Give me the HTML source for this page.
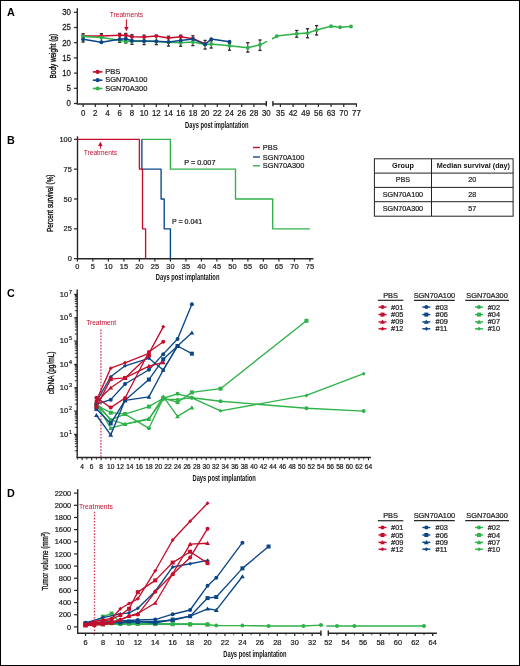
<!DOCTYPE html><html><head><meta charset="utf-8"><style>html,body{margin:0;padding:0;background:#fff;}svg{display:block;will-change:transform;}text{font-family:"Liberation Sans", sans-serif;}</style></head><body>
<svg width="520" height="666" viewBox="0 0 520 666">
<rect x="0" y="0" width="520" height="666" fill="#fff"/>
<rect x="0.5" y="0.5" width="519" height="665" fill="none" stroke="#000" stroke-width="1"/>
<text x="6.90" y="15.80" font-size="10.8" text-anchor="start" fill="#000" font-weight="bold" >A</text>
<text x="6.90" y="144.20" font-size="10.8" text-anchor="start" fill="#000" font-weight="bold" >B</text>
<text x="6.90" y="297.40" font-size="10.8" text-anchor="start" fill="#000" font-weight="bold" >C</text>
<text x="6.90" y="497.30" font-size="10.8" text-anchor="start" fill="#000" font-weight="bold" >D</text>
<line x1="77.30" y1="8.20" x2="77.30" y2="104.60" stroke="#262626" stroke-width="1.4" />
<line x1="77.00" y1="104.00" x2="266.30" y2="104.00" stroke="#262626" stroke-width="1.4" />
<line x1="272.90" y1="104.00" x2="357.00" y2="104.00" stroke="#262626" stroke-width="1.4" />
<line x1="266.30" y1="101.00" x2="266.30" y2="106.30" stroke="#262626" stroke-width="1.4" />
<line x1="272.90" y1="101.00" x2="272.90" y2="106.30" stroke="#262626" stroke-width="1.4" />
<line x1="74.00" y1="103.50" x2="77.30" y2="103.50" stroke="#262626" stroke-width="1.2" />
<g transform="translate(70.90 106.30) scale(1.0 1.17)"><text x="0" y="0" font-size="7.9" text-anchor="end" fill="#222" stroke="#222" stroke-width="0.22">0</text></g>
<line x1="74.00" y1="88.30" x2="77.30" y2="88.30" stroke="#262626" stroke-width="1.2" />
<g transform="translate(70.90 91.10) scale(1.0 1.17)"><text x="0" y="0" font-size="7.9" text-anchor="end" fill="#222" stroke="#222" stroke-width="0.22">5</text></g>
<line x1="74.00" y1="73.10" x2="77.30" y2="73.10" stroke="#262626" stroke-width="1.2" />
<g transform="translate(70.90 75.90) scale(1.0 1.17)"><text x="0" y="0" font-size="7.9" text-anchor="end" fill="#222" stroke="#222" stroke-width="0.22">10</text></g>
<line x1="74.00" y1="57.90" x2="77.30" y2="57.90" stroke="#262626" stroke-width="1.2" />
<g transform="translate(70.90 60.70) scale(1.0 1.17)"><text x="0" y="0" font-size="7.9" text-anchor="end" fill="#222" stroke="#222" stroke-width="0.22">15</text></g>
<line x1="74.00" y1="42.70" x2="77.30" y2="42.70" stroke="#262626" stroke-width="1.2" />
<g transform="translate(70.90 45.50) scale(1.0 1.17)"><text x="0" y="0" font-size="7.9" text-anchor="end" fill="#222" stroke="#222" stroke-width="0.22">20</text></g>
<line x1="74.00" y1="27.50" x2="77.30" y2="27.50" stroke="#262626" stroke-width="1.2" />
<g transform="translate(70.90 30.30) scale(1.0 1.17)"><text x="0" y="0" font-size="7.9" text-anchor="end" fill="#222" stroke="#222" stroke-width="0.22">25</text></g>
<line x1="74.00" y1="12.30" x2="77.30" y2="12.30" stroke="#262626" stroke-width="1.2" />
<g transform="translate(70.90 15.10) scale(1.0 1.17)"><text x="0" y="0" font-size="7.9" text-anchor="end" fill="#222" stroke="#222" stroke-width="0.22">30</text></g>
<line x1="83.10" y1="104.00" x2="83.10" y2="106.90" stroke="#262626" stroke-width="1.2" />
<g transform="translate(83.10 115.70) scale(1.0 1.12)"><text x="0" y="0" font-size="7.9" text-anchor="middle" fill="#222" stroke="#222" stroke-width="0.22">0</text></g>
<line x1="95.30" y1="104.00" x2="95.30" y2="106.90" stroke="#262626" stroke-width="1.2" />
<g transform="translate(95.30 115.70) scale(1.0 1.12)"><text x="0" y="0" font-size="7.9" text-anchor="middle" fill="#222" stroke="#222" stroke-width="0.22">2</text></g>
<line x1="107.50" y1="104.00" x2="107.50" y2="106.90" stroke="#262626" stroke-width="1.2" />
<g transform="translate(107.50 115.70) scale(1.0 1.12)"><text x="0" y="0" font-size="7.9" text-anchor="middle" fill="#222" stroke="#222" stroke-width="0.22">4</text></g>
<line x1="119.70" y1="104.00" x2="119.70" y2="106.90" stroke="#262626" stroke-width="1.2" />
<g transform="translate(119.70 115.70) scale(1.0 1.12)"><text x="0" y="0" font-size="7.9" text-anchor="middle" fill="#222" stroke="#222" stroke-width="0.22">6</text></g>
<line x1="131.90" y1="104.00" x2="131.90" y2="106.90" stroke="#262626" stroke-width="1.2" />
<g transform="translate(131.90 115.70) scale(1.0 1.12)"><text x="0" y="0" font-size="7.9" text-anchor="middle" fill="#222" stroke="#222" stroke-width="0.22">8</text></g>
<line x1="144.10" y1="104.00" x2="144.10" y2="106.90" stroke="#262626" stroke-width="1.2" />
<g transform="translate(144.10 115.70) scale(1.0 1.12)"><text x="0" y="0" font-size="7.9" text-anchor="middle" fill="#222" stroke="#222" stroke-width="0.22">10</text></g>
<line x1="156.30" y1="104.00" x2="156.30" y2="106.90" stroke="#262626" stroke-width="1.2" />
<g transform="translate(156.30 115.70) scale(1.0 1.12)"><text x="0" y="0" font-size="7.9" text-anchor="middle" fill="#222" stroke="#222" stroke-width="0.22">12</text></g>
<line x1="168.50" y1="104.00" x2="168.50" y2="106.90" stroke="#262626" stroke-width="1.2" />
<g transform="translate(168.50 115.70) scale(1.0 1.12)"><text x="0" y="0" font-size="7.9" text-anchor="middle" fill="#222" stroke="#222" stroke-width="0.22">14</text></g>
<line x1="180.70" y1="104.00" x2="180.70" y2="106.90" stroke="#262626" stroke-width="1.2" />
<g transform="translate(180.70 115.70) scale(1.0 1.12)"><text x="0" y="0" font-size="7.9" text-anchor="middle" fill="#222" stroke="#222" stroke-width="0.22">16</text></g>
<line x1="192.90" y1="104.00" x2="192.90" y2="106.90" stroke="#262626" stroke-width="1.2" />
<g transform="translate(192.90 115.70) scale(1.0 1.12)"><text x="0" y="0" font-size="7.9" text-anchor="middle" fill="#222" stroke="#222" stroke-width="0.22">18</text></g>
<line x1="205.10" y1="104.00" x2="205.10" y2="106.90" stroke="#262626" stroke-width="1.2" />
<g transform="translate(205.10 115.70) scale(1.0 1.12)"><text x="0" y="0" font-size="7.9" text-anchor="middle" fill="#222" stroke="#222" stroke-width="0.22">20</text></g>
<line x1="217.30" y1="104.00" x2="217.30" y2="106.90" stroke="#262626" stroke-width="1.2" />
<g transform="translate(217.30 115.70) scale(1.0 1.12)"><text x="0" y="0" font-size="7.9" text-anchor="middle" fill="#222" stroke="#222" stroke-width="0.22">22</text></g>
<line x1="229.50" y1="104.00" x2="229.50" y2="106.90" stroke="#262626" stroke-width="1.2" />
<g transform="translate(229.50 115.70) scale(1.0 1.12)"><text x="0" y="0" font-size="7.9" text-anchor="middle" fill="#222" stroke="#222" stroke-width="0.22">24</text></g>
<line x1="241.70" y1="104.00" x2="241.70" y2="106.90" stroke="#262626" stroke-width="1.2" />
<g transform="translate(241.70 115.70) scale(1.0 1.12)"><text x="0" y="0" font-size="7.9" text-anchor="middle" fill="#222" stroke="#222" stroke-width="0.22">26</text></g>
<line x1="253.90" y1="104.00" x2="253.90" y2="106.90" stroke="#262626" stroke-width="1.2" />
<g transform="translate(253.90 115.70) scale(1.0 1.12)"><text x="0" y="0" font-size="7.9" text-anchor="middle" fill="#222" stroke="#222" stroke-width="0.22">28</text></g>
<g transform="translate(266.30 115.70) scale(1.0 1.12)"><text x="0" y="0" font-size="7.9" text-anchor="middle" fill="#222" stroke="#222" stroke-width="0.22">30</text></g>
<line x1="280.40" y1="104.00" x2="280.40" y2="106.90" stroke="#262626" stroke-width="1.2" />
<g transform="translate(280.40 115.70) scale(1.0 1.12)"><text x="0" y="0" font-size="7.9" text-anchor="middle" fill="#222" stroke="#222" stroke-width="0.22">35</text></g>
<line x1="293.07" y1="104.00" x2="293.07" y2="106.90" stroke="#262626" stroke-width="1.2" />
<g transform="translate(293.07 115.70) scale(1.0 1.12)"><text x="0" y="0" font-size="7.9" text-anchor="middle" fill="#222" stroke="#222" stroke-width="0.22">42</text></g>
<line x1="305.74" y1="104.00" x2="305.74" y2="106.90" stroke="#262626" stroke-width="1.2" />
<g transform="translate(305.74 115.70) scale(1.0 1.12)"><text x="0" y="0" font-size="7.9" text-anchor="middle" fill="#222" stroke="#222" stroke-width="0.22">49</text></g>
<line x1="318.41" y1="104.00" x2="318.41" y2="106.90" stroke="#262626" stroke-width="1.2" />
<g transform="translate(318.41 115.70) scale(1.0 1.12)"><text x="0" y="0" font-size="7.9" text-anchor="middle" fill="#222" stroke="#222" stroke-width="0.22">56</text></g>
<line x1="331.08" y1="104.00" x2="331.08" y2="106.90" stroke="#262626" stroke-width="1.2" />
<g transform="translate(331.08 115.70) scale(1.0 1.12)"><text x="0" y="0" font-size="7.9" text-anchor="middle" fill="#222" stroke="#222" stroke-width="0.22">63</text></g>
<line x1="343.75" y1="104.00" x2="343.75" y2="106.90" stroke="#262626" stroke-width="1.2" />
<g transform="translate(343.75 115.70) scale(1.0 1.12)"><text x="0" y="0" font-size="7.9" text-anchor="middle" fill="#222" stroke="#222" stroke-width="0.22">70</text></g>
<line x1="356.42" y1="104.00" x2="356.42" y2="106.90" stroke="#262626" stroke-width="1.2" />
<g transform="translate(356.42 115.70) scale(1.0 1.12)"><text x="0" y="0" font-size="7.9" text-anchor="middle" fill="#222" stroke="#222" stroke-width="0.22">77</text></g>
<g transform="translate(185.10 128.00) scale(0.6872 1)"><text x="0" y="0" font-size="8.4" text-anchor="start" fill="#111" font-weight="bold">Days post implantation</text></g>
<g transform="translate(55.90 56.20) rotate(-90) scale(0.7117 1)"><text x="0" y="0" font-size="9.0" text-anchor="middle" fill="#111" font-weight="normal" stroke="#111" stroke-width="0.35">Body weight (g)</text></g>
<text x="126.40" y="16.90" font-size="6.9" text-anchor="middle" fill="#c50e2d" font-weight="normal" textLength="33.50" lengthAdjust="spacingAndGlyphs" >Treatments</text>
<line x1="126.40" y1="19.40" x2="126.40" y2="28.00" stroke="#c50e2d" stroke-width="1.1" />
<polygon points="124.1,27 128.7,27 126.4,31.2" fill="#c50e2d"/>
<line x1="83.10" y1="33.60" x2="83.10" y2="42.20" stroke="#262626" stroke-width="1.0" />
<line x1="81.50" y1="33.80" x2="84.70" y2="33.80" stroke="#262626" stroke-width="1.3" />
<line x1="81.50" y1="42.00" x2="84.70" y2="42.00" stroke="#262626" stroke-width="1.3" />
<line x1="101.40" y1="33.50" x2="101.40" y2="42.60" stroke="#262626" stroke-width="1.0" />
<line x1="99.80" y1="33.70" x2="103.00" y2="33.70" stroke="#262626" stroke-width="1.3" />
<line x1="99.80" y1="42.40" x2="103.00" y2="42.40" stroke="#262626" stroke-width="1.3" />
<line x1="119.70" y1="33.20" x2="119.70" y2="42.50" stroke="#262626" stroke-width="1.0" />
<line x1="118.10" y1="33.40" x2="121.30" y2="33.40" stroke="#262626" stroke-width="1.3" />
<line x1="118.10" y1="42.30" x2="121.30" y2="42.30" stroke="#262626" stroke-width="1.3" />
<line x1="125.80" y1="33.20" x2="125.80" y2="43.20" stroke="#262626" stroke-width="1.0" />
<line x1="124.20" y1="33.40" x2="127.40" y2="33.40" stroke="#262626" stroke-width="1.3" />
<line x1="124.20" y1="43.00" x2="127.40" y2="43.00" stroke="#262626" stroke-width="1.3" />
<line x1="131.90" y1="34.60" x2="131.90" y2="44.50" stroke="#262626" stroke-width="1.0" />
<line x1="130.30" y1="34.80" x2="133.50" y2="34.80" stroke="#262626" stroke-width="1.3" />
<line x1="130.30" y1="44.30" x2="133.50" y2="44.30" stroke="#262626" stroke-width="1.3" />
<line x1="144.10" y1="35.00" x2="144.10" y2="44.80" stroke="#262626" stroke-width="1.0" />
<line x1="142.50" y1="35.20" x2="145.70" y2="35.20" stroke="#262626" stroke-width="1.3" />
<line x1="142.50" y1="44.60" x2="145.70" y2="44.60" stroke="#262626" stroke-width="1.3" />
<line x1="156.30" y1="35.00" x2="156.30" y2="44.80" stroke="#262626" stroke-width="1.0" />
<line x1="154.70" y1="35.20" x2="157.90" y2="35.20" stroke="#262626" stroke-width="1.3" />
<line x1="154.70" y1="44.60" x2="157.90" y2="44.60" stroke="#262626" stroke-width="1.3" />
<line x1="168.50" y1="36.00" x2="168.50" y2="46.20" stroke="#262626" stroke-width="1.0" />
<line x1="166.90" y1="36.20" x2="170.10" y2="36.20" stroke="#262626" stroke-width="1.3" />
<line x1="166.90" y1="46.00" x2="170.10" y2="46.00" stroke="#262626" stroke-width="1.3" />
<line x1="180.70" y1="35.00" x2="180.70" y2="46.40" stroke="#262626" stroke-width="1.0" />
<line x1="179.10" y1="35.20" x2="182.30" y2="35.20" stroke="#262626" stroke-width="1.3" />
<line x1="179.10" y1="46.20" x2="182.30" y2="46.20" stroke="#262626" stroke-width="1.3" />
<line x1="192.90" y1="35.60" x2="192.90" y2="45.80" stroke="#262626" stroke-width="1.0" />
<line x1="191.30" y1="35.80" x2="194.50" y2="35.80" stroke="#262626" stroke-width="1.3" />
<line x1="191.30" y1="45.60" x2="194.50" y2="45.60" stroke="#262626" stroke-width="1.3" />
<line x1="205.10" y1="40.20" x2="205.10" y2="49.20" stroke="#262626" stroke-width="1.0" />
<line x1="203.50" y1="40.40" x2="206.70" y2="40.40" stroke="#262626" stroke-width="1.3" />
<line x1="203.50" y1="49.00" x2="206.70" y2="49.00" stroke="#262626" stroke-width="1.3" />
<line x1="211.20" y1="40.50" x2="211.20" y2="48.20" stroke="#262626" stroke-width="1.0" />
<line x1="209.60" y1="40.70" x2="212.80" y2="40.70" stroke="#262626" stroke-width="1.3" />
<line x1="209.60" y1="48.00" x2="212.80" y2="48.00" stroke="#262626" stroke-width="1.3" />
<line x1="229.50" y1="43.00" x2="229.50" y2="50.40" stroke="#262626" stroke-width="1.0" />
<line x1="227.90" y1="43.20" x2="231.10" y2="43.20" stroke="#262626" stroke-width="1.3" />
<line x1="227.90" y1="50.20" x2="231.10" y2="50.20" stroke="#262626" stroke-width="1.3" />
<line x1="247.80" y1="42.50" x2="247.80" y2="52.30" stroke="#262626" stroke-width="1.0" />
<line x1="246.20" y1="42.70" x2="249.40" y2="42.70" stroke="#262626" stroke-width="1.3" />
<line x1="246.20" y1="52.10" x2="249.40" y2="52.10" stroke="#262626" stroke-width="1.3" />
<line x1="260.00" y1="39.80" x2="260.00" y2="50.60" stroke="#262626" stroke-width="1.0" />
<line x1="258.40" y1="40.00" x2="261.60" y2="40.00" stroke="#262626" stroke-width="1.3" />
<line x1="258.40" y1="50.40" x2="261.60" y2="50.40" stroke="#262626" stroke-width="1.3" />
<line x1="296.69" y1="30.30" x2="296.69" y2="37.40" stroke="#262626" stroke-width="1.0" />
<line x1="295.09" y1="30.50" x2="298.29" y2="30.50" stroke="#262626" stroke-width="1.3" />
<line x1="295.09" y1="37.20" x2="298.29" y2="37.20" stroke="#262626" stroke-width="1.3" />
<line x1="307.55" y1="28.50" x2="307.55" y2="38.00" stroke="#262626" stroke-width="1.0" />
<line x1="305.95" y1="28.70" x2="309.15" y2="28.70" stroke="#262626" stroke-width="1.3" />
<line x1="305.95" y1="37.80" x2="309.15" y2="37.80" stroke="#262626" stroke-width="1.3" />
<line x1="316.60" y1="25.40" x2="316.60" y2="35.10" stroke="#262626" stroke-width="1.0" />
<line x1="315.00" y1="25.60" x2="318.20" y2="25.60" stroke="#262626" stroke-width="1.3" />
<line x1="315.00" y1="34.90" x2="318.20" y2="34.90" stroke="#262626" stroke-width="1.3" />
<polyline points="83.10,35.90 101.40,35.90 119.70,35.30 125.80,35.30 131.90,36.80 144.10,37.10 156.30,36.10 168.50,37.90 180.70,36.70 192.90,38.80 205.10,43.80" fill="none" stroke="#c50e2d" stroke-width="1.5" stroke-linejoin="round" />
<circle cx="83.10" cy="35.90" r="1.95" fill="#c50e2d"/>
<circle cx="101.40" cy="35.90" r="1.95" fill="#c50e2d"/>
<circle cx="119.70" cy="35.30" r="1.95" fill="#c50e2d"/>
<circle cx="125.80" cy="35.30" r="1.95" fill="#c50e2d"/>
<circle cx="131.90" cy="36.80" r="1.95" fill="#c50e2d"/>
<circle cx="144.10" cy="37.10" r="1.95" fill="#c50e2d"/>
<circle cx="156.30" cy="36.10" r="1.95" fill="#c50e2d"/>
<circle cx="168.50" cy="37.90" r="1.95" fill="#c50e2d"/>
<circle cx="180.70" cy="36.70" r="1.95" fill="#c50e2d"/>
<circle cx="192.90" cy="38.80" r="1.95" fill="#c50e2d"/>
<circle cx="205.10" cy="43.80" r="1.95" fill="#c50e2d"/>
<polyline points="83.10,36.50 101.40,37.60 119.70,40.30 125.80,41.40 131.90,41.20 144.10,41.30 156.30,41.60 168.50,42.30 180.70,42.70 192.90,42.10 205.10,44.60 211.20,44.00 229.50,45.80 247.80,47.70 260.00,44.80 267.00,41.30" fill="none" stroke="#2fb24a" stroke-width="1.5" stroke-linejoin="round" />
<polyline points="272.10,39.00 276.78,36.10 296.69,33.80 307.55,33.10 316.60,30.00 331.08,26.20 340.13,27.20 350.99,26.50" fill="none" stroke="#2fb24a" stroke-width="1.5" stroke-linejoin="round" />
<circle cx="83.10" cy="36.50" r="1.95" fill="#2fb24a"/>
<circle cx="101.40" cy="37.60" r="1.95" fill="#2fb24a"/>
<circle cx="119.70" cy="40.30" r="1.95" fill="#2fb24a"/>
<circle cx="125.80" cy="41.40" r="1.95" fill="#2fb24a"/>
<circle cx="131.90" cy="41.20" r="1.95" fill="#2fb24a"/>
<circle cx="144.10" cy="41.30" r="1.95" fill="#2fb24a"/>
<circle cx="156.30" cy="41.60" r="1.95" fill="#2fb24a"/>
<circle cx="168.50" cy="42.30" r="1.95" fill="#2fb24a"/>
<circle cx="180.70" cy="42.70" r="1.95" fill="#2fb24a"/>
<circle cx="192.90" cy="42.10" r="1.95" fill="#2fb24a"/>
<circle cx="205.10" cy="44.60" r="1.95" fill="#2fb24a"/>
<circle cx="211.20" cy="44.00" r="1.95" fill="#2fb24a"/>
<circle cx="229.50" cy="45.80" r="1.95" fill="#2fb24a"/>
<circle cx="247.80" cy="47.70" r="1.95" fill="#2fb24a"/>
<circle cx="260.00" cy="44.80" r="1.95" fill="#2fb24a"/>
<circle cx="276.78" cy="36.10" r="1.95" fill="#2fb24a"/>
<circle cx="296.69" cy="33.80" r="1.95" fill="#2fb24a"/>
<circle cx="307.55" cy="33.10" r="1.95" fill="#2fb24a"/>
<circle cx="316.60" cy="30.00" r="1.95" fill="#2fb24a"/>
<circle cx="331.08" cy="26.20" r="1.95" fill="#2fb24a"/>
<circle cx="340.13" cy="27.20" r="1.95" fill="#2fb24a"/>
<circle cx="350.99" cy="26.50" r="1.95" fill="#2fb24a"/>
<polyline points="83.10,39.30 101.40,42.20 119.70,39.30 125.80,38.80 131.90,40.80 144.10,41.00 156.30,41.30 168.50,41.90 180.70,40.50 192.90,39.10 205.10,44.40 211.20,39.10 229.50,41.70" fill="none" stroke="#0b4787" stroke-width="1.5" stroke-linejoin="round" />
<circle cx="83.10" cy="39.30" r="1.95" fill="#0b4787"/>
<circle cx="101.40" cy="42.20" r="1.95" fill="#0b4787"/>
<circle cx="119.70" cy="39.30" r="1.95" fill="#0b4787"/>
<circle cx="125.80" cy="38.80" r="1.95" fill="#0b4787"/>
<circle cx="131.90" cy="40.80" r="1.95" fill="#0b4787"/>
<circle cx="144.10" cy="41.00" r="1.95" fill="#0b4787"/>
<circle cx="156.30" cy="41.30" r="1.95" fill="#0b4787"/>
<circle cx="168.50" cy="41.90" r="1.95" fill="#0b4787"/>
<circle cx="180.70" cy="40.50" r="1.95" fill="#0b4787"/>
<circle cx="192.90" cy="39.10" r="1.95" fill="#0b4787"/>
<circle cx="205.10" cy="44.40" r="1.95" fill="#0b4787"/>
<circle cx="211.20" cy="39.10" r="1.95" fill="#0b4787"/>
<circle cx="229.50" cy="41.70" r="1.95" fill="#0b4787"/>
<line x1="92.80" y1="71.90" x2="102.40" y2="71.90" stroke="#c50e2d" stroke-width="1.6" />
<circle cx="97.6" cy="71.9" r="2.1" fill="#c50e2d"/>
<text x="105.20" y="74.00" font-size="7.5" text-anchor="start" fill="#222" font-weight="normal" stroke="#222" stroke-width="0.22" >PBS</text>
<line x1="92.80" y1="80.20" x2="102.40" y2="80.20" stroke="#0b4787" stroke-width="1.6" />
<circle cx="97.6" cy="80.2" r="2.1" fill="#0b4787"/>
<text x="105.20" y="82.30" font-size="7.5" text-anchor="start" fill="#222" font-weight="normal" stroke="#222" stroke-width="0.22" >SGN70A100</text>
<line x1="92.80" y1="88.50" x2="102.40" y2="88.50" stroke="#2fb24a" stroke-width="1.6" />
<circle cx="97.6" cy="88.5" r="2.1" fill="#2fb24a"/>
<text x="105.20" y="90.60" font-size="7.5" text-anchor="start" fill="#222" font-weight="normal" stroke="#222" stroke-width="0.22" >SGN70A300</text>
<line x1="77.50" y1="136.30" x2="77.50" y2="259.20" stroke="#262626" stroke-width="1.4" />
<line x1="77.00" y1="258.70" x2="313.50" y2="258.70" stroke="#262626" stroke-width="1.4" />
<line x1="74.00" y1="258.70" x2="77.50" y2="258.70" stroke="#262626" stroke-width="1.2" />
<text x="71.80" y="261.30" font-size="7.4" text-anchor="end" fill="#222" font-weight="normal" stroke="#222" stroke-width="0.22" >0</text>
<line x1="74.00" y1="228.85" x2="77.50" y2="228.85" stroke="#262626" stroke-width="1.2" />
<text x="71.80" y="231.45" font-size="7.4" text-anchor="end" fill="#222" font-weight="normal" stroke="#222" stroke-width="0.22" >25</text>
<line x1="74.00" y1="199.00" x2="77.50" y2="199.00" stroke="#262626" stroke-width="1.2" />
<text x="71.80" y="201.60" font-size="7.4" text-anchor="end" fill="#222" font-weight="normal" stroke="#222" stroke-width="0.22" >50</text>
<line x1="74.00" y1="169.15" x2="77.50" y2="169.15" stroke="#262626" stroke-width="1.2" />
<text x="71.80" y="171.75" font-size="7.4" text-anchor="end" fill="#222" font-weight="normal" stroke="#222" stroke-width="0.22" >75</text>
<line x1="74.00" y1="139.30" x2="77.50" y2="139.30" stroke="#262626" stroke-width="1.2" />
<text x="71.80" y="141.90" font-size="7.4" text-anchor="end" fill="#222" font-weight="normal" stroke="#222" stroke-width="0.22" >100</text>
<line x1="77.40" y1="258.80" x2="77.40" y2="261.60" stroke="#262626" stroke-width="1.2" />
<text x="77.40" y="268.80" font-size="7.4" text-anchor="middle" fill="#222" font-weight="normal" stroke="#222" stroke-width="0.22" >0</text>
<line x1="92.90" y1="258.80" x2="92.90" y2="261.60" stroke="#262626" stroke-width="1.2" />
<text x="92.90" y="268.80" font-size="7.4" text-anchor="middle" fill="#222" font-weight="normal" stroke="#222" stroke-width="0.22" >5</text>
<line x1="108.40" y1="258.80" x2="108.40" y2="261.60" stroke="#262626" stroke-width="1.2" />
<text x="108.40" y="268.80" font-size="7.4" text-anchor="middle" fill="#222" font-weight="normal" stroke="#222" stroke-width="0.22" >10</text>
<line x1="123.90" y1="258.80" x2="123.90" y2="261.60" stroke="#262626" stroke-width="1.2" />
<text x="123.90" y="268.80" font-size="7.4" text-anchor="middle" fill="#222" font-weight="normal" stroke="#222" stroke-width="0.22" >15</text>
<line x1="139.40" y1="258.80" x2="139.40" y2="261.60" stroke="#262626" stroke-width="1.2" />
<text x="139.40" y="268.80" font-size="7.4" text-anchor="middle" fill="#222" font-weight="normal" stroke="#222" stroke-width="0.22" >20</text>
<line x1="154.90" y1="258.80" x2="154.90" y2="261.60" stroke="#262626" stroke-width="1.2" />
<text x="154.90" y="268.80" font-size="7.4" text-anchor="middle" fill="#222" font-weight="normal" stroke="#222" stroke-width="0.22" >25</text>
<line x1="170.40" y1="258.80" x2="170.40" y2="261.60" stroke="#262626" stroke-width="1.2" />
<text x="170.40" y="268.80" font-size="7.4" text-anchor="middle" fill="#222" font-weight="normal" stroke="#222" stroke-width="0.22" >30</text>
<line x1="185.90" y1="258.80" x2="185.90" y2="261.60" stroke="#262626" stroke-width="1.2" />
<text x="185.90" y="268.80" font-size="7.4" text-anchor="middle" fill="#222" font-weight="normal" stroke="#222" stroke-width="0.22" >35</text>
<line x1="201.40" y1="258.80" x2="201.40" y2="261.60" stroke="#262626" stroke-width="1.2" />
<text x="201.40" y="268.80" font-size="7.4" text-anchor="middle" fill="#222" font-weight="normal" stroke="#222" stroke-width="0.22" >40</text>
<line x1="216.90" y1="258.80" x2="216.90" y2="261.60" stroke="#262626" stroke-width="1.2" />
<text x="216.90" y="268.80" font-size="7.4" text-anchor="middle" fill="#222" font-weight="normal" stroke="#222" stroke-width="0.22" >45</text>
<line x1="232.40" y1="258.80" x2="232.40" y2="261.60" stroke="#262626" stroke-width="1.2" />
<text x="232.40" y="268.80" font-size="7.4" text-anchor="middle" fill="#222" font-weight="normal" stroke="#222" stroke-width="0.22" >50</text>
<line x1="247.90" y1="258.80" x2="247.90" y2="261.60" stroke="#262626" stroke-width="1.2" />
<text x="247.90" y="268.80" font-size="7.4" text-anchor="middle" fill="#222" font-weight="normal" stroke="#222" stroke-width="0.22" >55</text>
<line x1="263.40" y1="258.80" x2="263.40" y2="261.60" stroke="#262626" stroke-width="1.2" />
<text x="263.40" y="268.80" font-size="7.4" text-anchor="middle" fill="#222" font-weight="normal" stroke="#222" stroke-width="0.22" >60</text>
<line x1="278.90" y1="258.80" x2="278.90" y2="261.60" stroke="#262626" stroke-width="1.2" />
<text x="278.90" y="268.80" font-size="7.4" text-anchor="middle" fill="#222" font-weight="normal" stroke="#222" stroke-width="0.22" >65</text>
<line x1="294.40" y1="258.80" x2="294.40" y2="261.60" stroke="#262626" stroke-width="1.2" />
<text x="294.40" y="268.80" font-size="7.4" text-anchor="middle" fill="#222" font-weight="normal" stroke="#222" stroke-width="0.22" >70</text>
<line x1="309.90" y1="258.80" x2="309.90" y2="261.60" stroke="#262626" stroke-width="1.2" />
<text x="309.90" y="268.80" font-size="7.4" text-anchor="middle" fill="#222" font-weight="normal" stroke="#222" stroke-width="0.22" >75</text>
<g transform="translate(155.80 280.30) scale(0.6894 1)"><text x="0" y="0" font-size="8.4" text-anchor="start" fill="#111" font-weight="bold">Days post implantation</text></g>
<g transform="translate(52.60 203.30) rotate(-90) scale(0.7329 1)"><text x="0" y="0" font-size="8.8" text-anchor="middle" fill="#111" font-weight="normal" stroke="#111" stroke-width="0.35">Percent survival (%)</text></g>
<polyline points="309.90,228.85 272.70,228.85 272.70,199.00 235.50,199.00 235.50,169.15 170.40,169.15 170.40,139.30 141.88,139.30" fill="none" stroke="#2fb24a" stroke-width="1.35" stroke-linejoin="round" stroke-linejoin="miter"/>
<polyline points="141.88,139.30 141.88,169.15 161.10,169.15 161.10,199.00 164.20,199.00 164.20,228.85 170.40,228.85 170.40,258.70" fill="none" stroke="#0b4787" stroke-width="1.35" stroke-linejoin="round" stroke-linejoin="miter"/>
<polyline points="77.50,139.30 139.40,139.30 139.40,169.15 142.50,169.15 142.50,228.85 145.60,228.85 145.60,258.70" fill="none" stroke="#c50e2d" stroke-width="1.35" stroke-linejoin="round" stroke-linejoin="miter"/>
<line x1="100.40" y1="144.50" x2="100.40" y2="148.60" stroke="#c50e2d" stroke-width="1.0" />
<polygon points="98.1,146.0 102.7,146.0 100.4,141.7" fill="#c50e2d"/>
<text x="100.40" y="155.10" font-size="6.8" text-anchor="middle" fill="#c50e2d" font-weight="normal" textLength="33.40" lengthAdjust="spacingAndGlyphs" >Treatments</text>
<text x="184.20" y="164.90" font-size="7.2" text-anchor="start" fill="#222" font-weight="normal" textLength="31.30" lengthAdjust="spacingAndGlyphs" stroke="#222" stroke-width="0.22" >P = 0.007</text>
<text x="171.90" y="223.80" font-size="7.2" text-anchor="start" fill="#222" font-weight="normal" textLength="30.30" lengthAdjust="spacingAndGlyphs" stroke="#222" stroke-width="0.22" >P = 0.041</text>
<line x1="253.00" y1="147.50" x2="259.90" y2="147.50" stroke="#c50e2d" stroke-width="1.4" />
<text x="262.80" y="150.00" font-size="7.4" text-anchor="start" fill="#222" font-weight="normal" stroke="#222" stroke-width="0.22" >PBS</text>
<line x1="253.00" y1="157.00" x2="259.90" y2="157.00" stroke="#0b4787" stroke-width="1.4" />
<text x="262.80" y="159.50" font-size="7.4" text-anchor="start" fill="#222" font-weight="normal" stroke="#222" stroke-width="0.22" >SGN70A100</text>
<line x1="253.00" y1="165.80" x2="259.90" y2="165.80" stroke="#2fb24a" stroke-width="1.4" />
<text x="262.80" y="168.30" font-size="7.4" text-anchor="start" fill="#222" font-weight="normal" stroke="#222" stroke-width="0.22" >SGN70A300</text>
<rect x="374.4" y="158.8" width="138.70000000000005" height="57.39999999999998" fill="none" stroke="#222" stroke-width="1"/>
<line x1="374.40" y1="173.10" x2="513.10" y2="173.10" stroke="#222" stroke-width="1" />
<line x1="374.40" y1="187.40" x2="513.10" y2="187.40" stroke="#222" stroke-width="1" />
<line x1="374.40" y1="201.70" x2="513.10" y2="201.70" stroke="#222" stroke-width="1" />
<line x1="431.50" y1="158.80" x2="431.50" y2="216.20" stroke="#222" stroke-width="1" />
<text x="402.95" y="168.40" font-size="7.3" text-anchor="middle" fill="#111" font-weight="bold" >Group</text>
<text x="473.40" y="168.40" font-size="7.2" text-anchor="middle" fill="#111" font-weight="bold" >Median survival (day)</text>
<text x="402.95" y="182.40" font-size="7.2" text-anchor="middle" fill="#222" font-weight="normal" stroke="#222" stroke-width="0.22" >PBS</text>
<text x="472.30" y="182.40" font-size="7.2" text-anchor="middle" fill="#222" font-weight="normal" stroke="#222" stroke-width="0.22" >20</text>
<text x="402.95" y="196.70" font-size="7.2" text-anchor="middle" fill="#222" font-weight="normal" stroke="#222" stroke-width="0.22" >SGN70A100</text>
<text x="472.30" y="196.70" font-size="7.2" text-anchor="middle" fill="#222" font-weight="normal" stroke="#222" stroke-width="0.22" >28</text>
<text x="402.95" y="211.00" font-size="7.2" text-anchor="middle" fill="#222" font-weight="normal" stroke="#222" stroke-width="0.22" >SGN70A300</text>
<text x="472.30" y="211.00" font-size="7.2" text-anchor="middle" fill="#222" font-weight="normal" stroke="#222" stroke-width="0.22" >57</text>
<line x1="77.20" y1="289.40" x2="77.20" y2="458.00" stroke="#262626" stroke-width="1.4" />
<line x1="76.70" y1="457.50" x2="370.90" y2="457.50" stroke="#262626" stroke-width="1.4" />
<line x1="74.80" y1="450.71" x2="77.20" y2="450.71" stroke="#262626" stroke-width="0.95" />
<line x1="74.80" y1="446.60" x2="77.20" y2="446.60" stroke="#262626" stroke-width="0.95" />
<line x1="74.80" y1="443.68" x2="77.20" y2="443.68" stroke="#262626" stroke-width="0.95" />
<line x1="74.80" y1="441.42" x2="77.20" y2="441.42" stroke="#262626" stroke-width="0.95" />
<line x1="74.80" y1="439.58" x2="77.20" y2="439.58" stroke="#262626" stroke-width="0.95" />
<line x1="74.80" y1="438.01" x2="77.20" y2="438.01" stroke="#262626" stroke-width="0.95" />
<line x1="74.80" y1="436.66" x2="77.20" y2="436.66" stroke="#262626" stroke-width="0.95" />
<line x1="74.80" y1="435.47" x2="77.20" y2="435.47" stroke="#262626" stroke-width="0.95" />
<line x1="74.20" y1="434.40" x2="77.20" y2="434.40" stroke="#262626" stroke-width="1.2" />
<text x="68.30" y="436.80" font-size="7.6" text-anchor="end" fill="#222" font-weight="normal" stroke="#222" stroke-width="0.22" >10</text>
<text x="68.90" y="433.50" font-size="5.4" text-anchor="start" fill="#222" font-weight="normal" stroke="#222" stroke-width="0.22" >1</text>
<line x1="74.80" y1="427.38" x2="77.20" y2="427.38" stroke="#262626" stroke-width="0.95" />
<line x1="74.80" y1="423.27" x2="77.20" y2="423.27" stroke="#262626" stroke-width="0.95" />
<line x1="74.80" y1="420.35" x2="77.20" y2="420.35" stroke="#262626" stroke-width="0.95" />
<line x1="74.80" y1="418.09" x2="77.20" y2="418.09" stroke="#262626" stroke-width="0.95" />
<line x1="74.80" y1="416.25" x2="77.20" y2="416.25" stroke="#262626" stroke-width="0.95" />
<line x1="74.80" y1="414.68" x2="77.20" y2="414.68" stroke="#262626" stroke-width="0.95" />
<line x1="74.80" y1="413.33" x2="77.20" y2="413.33" stroke="#262626" stroke-width="0.95" />
<line x1="74.80" y1="412.14" x2="77.20" y2="412.14" stroke="#262626" stroke-width="0.95" />
<line x1="74.20" y1="411.07" x2="77.20" y2="411.07" stroke="#262626" stroke-width="1.2" />
<text x="68.30" y="413.47" font-size="7.6" text-anchor="end" fill="#222" font-weight="normal" stroke="#222" stroke-width="0.22" >10</text>
<text x="68.90" y="410.17" font-size="5.4" text-anchor="start" fill="#222" font-weight="normal" stroke="#222" stroke-width="0.22" >2</text>
<line x1="74.80" y1="404.05" x2="77.20" y2="404.05" stroke="#262626" stroke-width="0.95" />
<line x1="74.80" y1="399.94" x2="77.20" y2="399.94" stroke="#262626" stroke-width="0.95" />
<line x1="74.80" y1="397.02" x2="77.20" y2="397.02" stroke="#262626" stroke-width="0.95" />
<line x1="74.80" y1="394.76" x2="77.20" y2="394.76" stroke="#262626" stroke-width="0.95" />
<line x1="74.80" y1="392.92" x2="77.20" y2="392.92" stroke="#262626" stroke-width="0.95" />
<line x1="74.80" y1="391.35" x2="77.20" y2="391.35" stroke="#262626" stroke-width="0.95" />
<line x1="74.80" y1="390.00" x2="77.20" y2="390.00" stroke="#262626" stroke-width="0.95" />
<line x1="74.80" y1="388.81" x2="77.20" y2="388.81" stroke="#262626" stroke-width="0.95" />
<line x1="74.20" y1="387.74" x2="77.20" y2="387.74" stroke="#262626" stroke-width="1.2" />
<text x="68.30" y="390.14" font-size="7.6" text-anchor="end" fill="#222" font-weight="normal" stroke="#222" stroke-width="0.22" >10</text>
<text x="68.90" y="386.84" font-size="5.4" text-anchor="start" fill="#222" font-weight="normal" stroke="#222" stroke-width="0.22" >3</text>
<line x1="74.80" y1="380.72" x2="77.20" y2="380.72" stroke="#262626" stroke-width="0.95" />
<line x1="74.80" y1="376.61" x2="77.20" y2="376.61" stroke="#262626" stroke-width="0.95" />
<line x1="74.80" y1="373.69" x2="77.20" y2="373.69" stroke="#262626" stroke-width="0.95" />
<line x1="74.80" y1="371.43" x2="77.20" y2="371.43" stroke="#262626" stroke-width="0.95" />
<line x1="74.80" y1="369.59" x2="77.20" y2="369.59" stroke="#262626" stroke-width="0.95" />
<line x1="74.80" y1="368.02" x2="77.20" y2="368.02" stroke="#262626" stroke-width="0.95" />
<line x1="74.80" y1="366.67" x2="77.20" y2="366.67" stroke="#262626" stroke-width="0.95" />
<line x1="74.80" y1="365.48" x2="77.20" y2="365.48" stroke="#262626" stroke-width="0.95" />
<line x1="74.20" y1="364.41" x2="77.20" y2="364.41" stroke="#262626" stroke-width="1.2" />
<text x="68.30" y="366.81" font-size="7.6" text-anchor="end" fill="#222" font-weight="normal" stroke="#222" stroke-width="0.22" >10</text>
<text x="68.90" y="363.51" font-size="5.4" text-anchor="start" fill="#222" font-weight="normal" stroke="#222" stroke-width="0.22" >4</text>
<line x1="74.80" y1="357.39" x2="77.20" y2="357.39" stroke="#262626" stroke-width="0.95" />
<line x1="74.80" y1="353.28" x2="77.20" y2="353.28" stroke="#262626" stroke-width="0.95" />
<line x1="74.80" y1="350.36" x2="77.20" y2="350.36" stroke="#262626" stroke-width="0.95" />
<line x1="74.80" y1="348.10" x2="77.20" y2="348.10" stroke="#262626" stroke-width="0.95" />
<line x1="74.80" y1="346.26" x2="77.20" y2="346.26" stroke="#262626" stroke-width="0.95" />
<line x1="74.80" y1="344.69" x2="77.20" y2="344.69" stroke="#262626" stroke-width="0.95" />
<line x1="74.80" y1="343.34" x2="77.20" y2="343.34" stroke="#262626" stroke-width="0.95" />
<line x1="74.80" y1="342.15" x2="77.20" y2="342.15" stroke="#262626" stroke-width="0.95" />
<line x1="74.20" y1="341.08" x2="77.20" y2="341.08" stroke="#262626" stroke-width="1.2" />
<text x="68.30" y="343.48" font-size="7.6" text-anchor="end" fill="#222" font-weight="normal" stroke="#222" stroke-width="0.22" >10</text>
<text x="68.90" y="340.18" font-size="5.4" text-anchor="start" fill="#222" font-weight="normal" stroke="#222" stroke-width="0.22" >5</text>
<line x1="74.80" y1="334.06" x2="77.20" y2="334.06" stroke="#262626" stroke-width="0.95" />
<line x1="74.80" y1="329.95" x2="77.20" y2="329.95" stroke="#262626" stroke-width="0.95" />
<line x1="74.80" y1="327.03" x2="77.20" y2="327.03" stroke="#262626" stroke-width="0.95" />
<line x1="74.80" y1="324.77" x2="77.20" y2="324.77" stroke="#262626" stroke-width="0.95" />
<line x1="74.80" y1="322.93" x2="77.20" y2="322.93" stroke="#262626" stroke-width="0.95" />
<line x1="74.80" y1="321.36" x2="77.20" y2="321.36" stroke="#262626" stroke-width="0.95" />
<line x1="74.80" y1="320.01" x2="77.20" y2="320.01" stroke="#262626" stroke-width="0.95" />
<line x1="74.80" y1="318.82" x2="77.20" y2="318.82" stroke="#262626" stroke-width="0.95" />
<line x1="74.20" y1="317.75" x2="77.20" y2="317.75" stroke="#262626" stroke-width="1.2" />
<text x="68.30" y="320.15" font-size="7.6" text-anchor="end" fill="#222" font-weight="normal" stroke="#222" stroke-width="0.22" >10</text>
<text x="68.90" y="316.85" font-size="5.4" text-anchor="start" fill="#222" font-weight="normal" stroke="#222" stroke-width="0.22" >6</text>
<line x1="74.80" y1="310.73" x2="77.20" y2="310.73" stroke="#262626" stroke-width="0.95" />
<line x1="74.80" y1="306.62" x2="77.20" y2="306.62" stroke="#262626" stroke-width="0.95" />
<line x1="74.80" y1="303.70" x2="77.20" y2="303.70" stroke="#262626" stroke-width="0.95" />
<line x1="74.80" y1="301.44" x2="77.20" y2="301.44" stroke="#262626" stroke-width="0.95" />
<line x1="74.80" y1="299.60" x2="77.20" y2="299.60" stroke="#262626" stroke-width="0.95" />
<line x1="74.80" y1="298.03" x2="77.20" y2="298.03" stroke="#262626" stroke-width="0.95" />
<line x1="74.80" y1="296.68" x2="77.20" y2="296.68" stroke="#262626" stroke-width="0.95" />
<line x1="74.80" y1="295.49" x2="77.20" y2="295.49" stroke="#262626" stroke-width="0.95" />
<line x1="74.20" y1="294.42" x2="77.20" y2="294.42" stroke="#262626" stroke-width="1.2" />
<text x="68.30" y="296.82" font-size="7.6" text-anchor="end" fill="#222" font-weight="normal" stroke="#222" stroke-width="0.22" >10</text>
<text x="68.90" y="293.52" font-size="5.4" text-anchor="start" fill="#222" font-weight="normal" stroke="#222" stroke-width="0.22" >7</text>
<line x1="77.33" y1="457.70" x2="77.33" y2="459.60" stroke="#262626" stroke-width="0.9" />
<line x1="82.10" y1="457.70" x2="82.10" y2="460.30" stroke="#262626" stroke-width="1.1" />
<text x="82.10" y="469.00" font-size="6.6" text-anchor="middle" fill="#222" font-weight="normal" stroke="#222" stroke-width="0.22" >4</text>
<line x1="86.87" y1="457.70" x2="86.87" y2="459.60" stroke="#262626" stroke-width="0.9" />
<line x1="91.65" y1="457.70" x2="91.65" y2="460.30" stroke="#262626" stroke-width="1.1" />
<text x="91.65" y="469.00" font-size="6.6" text-anchor="middle" fill="#222" font-weight="normal" stroke="#222" stroke-width="0.22" >6</text>
<line x1="96.42" y1="457.70" x2="96.42" y2="459.60" stroke="#262626" stroke-width="0.9" />
<line x1="101.19" y1="457.70" x2="101.19" y2="460.30" stroke="#262626" stroke-width="1.1" />
<text x="101.19" y="469.00" font-size="6.6" text-anchor="middle" fill="#222" font-weight="normal" stroke="#222" stroke-width="0.22" >8</text>
<line x1="105.96" y1="457.70" x2="105.96" y2="459.60" stroke="#262626" stroke-width="0.9" />
<line x1="110.74" y1="457.70" x2="110.74" y2="460.30" stroke="#262626" stroke-width="1.1" />
<text x="110.74" y="469.00" font-size="6.6" text-anchor="middle" fill="#222" font-weight="normal" stroke="#222" stroke-width="0.22" >10</text>
<line x1="115.51" y1="457.70" x2="115.51" y2="459.60" stroke="#262626" stroke-width="0.9" />
<line x1="120.28" y1="457.70" x2="120.28" y2="460.30" stroke="#262626" stroke-width="1.1" />
<text x="120.28" y="469.00" font-size="6.6" text-anchor="middle" fill="#222" font-weight="normal" stroke="#222" stroke-width="0.22" >12</text>
<line x1="125.06" y1="457.70" x2="125.06" y2="459.60" stroke="#262626" stroke-width="0.9" />
<line x1="129.83" y1="457.70" x2="129.83" y2="460.30" stroke="#262626" stroke-width="1.1" />
<text x="129.83" y="469.00" font-size="6.6" text-anchor="middle" fill="#222" font-weight="normal" stroke="#222" stroke-width="0.22" >14</text>
<line x1="134.60" y1="457.70" x2="134.60" y2="459.60" stroke="#262626" stroke-width="0.9" />
<line x1="139.38" y1="457.70" x2="139.38" y2="460.30" stroke="#262626" stroke-width="1.1" />
<text x="139.38" y="469.00" font-size="6.6" text-anchor="middle" fill="#222" font-weight="normal" stroke="#222" stroke-width="0.22" >16</text>
<line x1="144.15" y1="457.70" x2="144.15" y2="459.60" stroke="#262626" stroke-width="0.9" />
<line x1="148.92" y1="457.70" x2="148.92" y2="460.30" stroke="#262626" stroke-width="1.1" />
<text x="148.92" y="469.00" font-size="6.6" text-anchor="middle" fill="#222" font-weight="normal" stroke="#222" stroke-width="0.22" >18</text>
<line x1="153.69" y1="457.70" x2="153.69" y2="459.60" stroke="#262626" stroke-width="0.9" />
<line x1="158.47" y1="457.70" x2="158.47" y2="460.30" stroke="#262626" stroke-width="1.1" />
<text x="158.47" y="469.00" font-size="6.6" text-anchor="middle" fill="#222" font-weight="normal" stroke="#222" stroke-width="0.22" >20</text>
<line x1="163.24" y1="457.70" x2="163.24" y2="459.60" stroke="#262626" stroke-width="0.9" />
<line x1="168.01" y1="457.70" x2="168.01" y2="460.30" stroke="#262626" stroke-width="1.1" />
<text x="168.01" y="469.00" font-size="6.6" text-anchor="middle" fill="#222" font-weight="normal" stroke="#222" stroke-width="0.22" >22</text>
<line x1="172.79" y1="457.70" x2="172.79" y2="459.60" stroke="#262626" stroke-width="0.9" />
<line x1="177.56" y1="457.70" x2="177.56" y2="460.30" stroke="#262626" stroke-width="1.1" />
<text x="177.56" y="469.00" font-size="6.6" text-anchor="middle" fill="#222" font-weight="normal" stroke="#222" stroke-width="0.22" >24</text>
<line x1="182.33" y1="457.70" x2="182.33" y2="459.60" stroke="#262626" stroke-width="0.9" />
<line x1="187.11" y1="457.70" x2="187.11" y2="460.30" stroke="#262626" stroke-width="1.1" />
<text x="187.11" y="469.00" font-size="6.6" text-anchor="middle" fill="#222" font-weight="normal" stroke="#222" stroke-width="0.22" >26</text>
<line x1="191.88" y1="457.70" x2="191.88" y2="459.60" stroke="#262626" stroke-width="0.9" />
<line x1="196.65" y1="457.70" x2="196.65" y2="460.30" stroke="#262626" stroke-width="1.1" />
<text x="196.65" y="469.00" font-size="6.6" text-anchor="middle" fill="#222" font-weight="normal" stroke="#222" stroke-width="0.22" >28</text>
<line x1="201.42" y1="457.70" x2="201.42" y2="459.60" stroke="#262626" stroke-width="0.9" />
<line x1="206.20" y1="457.70" x2="206.20" y2="460.30" stroke="#262626" stroke-width="1.1" />
<text x="206.20" y="469.00" font-size="6.6" text-anchor="middle" fill="#222" font-weight="normal" stroke="#222" stroke-width="0.22" >30</text>
<line x1="210.97" y1="457.70" x2="210.97" y2="459.60" stroke="#262626" stroke-width="0.9" />
<line x1="215.74" y1="457.70" x2="215.74" y2="460.30" stroke="#262626" stroke-width="1.1" />
<text x="215.74" y="469.00" font-size="6.6" text-anchor="middle" fill="#222" font-weight="normal" stroke="#222" stroke-width="0.22" >32</text>
<line x1="220.52" y1="457.70" x2="220.52" y2="459.60" stroke="#262626" stroke-width="0.9" />
<line x1="225.29" y1="457.70" x2="225.29" y2="460.30" stroke="#262626" stroke-width="1.1" />
<text x="225.29" y="469.00" font-size="6.6" text-anchor="middle" fill="#222" font-weight="normal" stroke="#222" stroke-width="0.22" >34</text>
<line x1="230.06" y1="457.70" x2="230.06" y2="459.60" stroke="#262626" stroke-width="0.9" />
<line x1="234.84" y1="457.70" x2="234.84" y2="460.30" stroke="#262626" stroke-width="1.1" />
<text x="234.84" y="469.00" font-size="6.6" text-anchor="middle" fill="#222" font-weight="normal" stroke="#222" stroke-width="0.22" >36</text>
<line x1="239.61" y1="457.70" x2="239.61" y2="459.60" stroke="#262626" stroke-width="0.9" />
<line x1="244.38" y1="457.70" x2="244.38" y2="460.30" stroke="#262626" stroke-width="1.1" />
<text x="244.38" y="469.00" font-size="6.6" text-anchor="middle" fill="#222" font-weight="normal" stroke="#222" stroke-width="0.22" >38</text>
<line x1="249.15" y1="457.70" x2="249.15" y2="459.60" stroke="#262626" stroke-width="0.9" />
<line x1="253.93" y1="457.70" x2="253.93" y2="460.30" stroke="#262626" stroke-width="1.1" />
<text x="253.93" y="469.00" font-size="6.6" text-anchor="middle" fill="#222" font-weight="normal" stroke="#222" stroke-width="0.22" >40</text>
<line x1="258.70" y1="457.70" x2="258.70" y2="459.60" stroke="#262626" stroke-width="0.9" />
<line x1="263.47" y1="457.70" x2="263.47" y2="460.30" stroke="#262626" stroke-width="1.1" />
<text x="263.47" y="469.00" font-size="6.6" text-anchor="middle" fill="#222" font-weight="normal" stroke="#222" stroke-width="0.22" >42</text>
<line x1="268.25" y1="457.70" x2="268.25" y2="459.60" stroke="#262626" stroke-width="0.9" />
<line x1="273.02" y1="457.70" x2="273.02" y2="460.30" stroke="#262626" stroke-width="1.1" />
<text x="273.02" y="469.00" font-size="6.6" text-anchor="middle" fill="#222" font-weight="normal" stroke="#222" stroke-width="0.22" >44</text>
<line x1="277.79" y1="457.70" x2="277.79" y2="459.60" stroke="#262626" stroke-width="0.9" />
<line x1="282.57" y1="457.70" x2="282.57" y2="460.30" stroke="#262626" stroke-width="1.1" />
<text x="282.57" y="469.00" font-size="6.6" text-anchor="middle" fill="#222" font-weight="normal" stroke="#222" stroke-width="0.22" >46</text>
<line x1="287.34" y1="457.70" x2="287.34" y2="459.60" stroke="#262626" stroke-width="0.9" />
<line x1="292.11" y1="457.70" x2="292.11" y2="460.30" stroke="#262626" stroke-width="1.1" />
<text x="292.11" y="469.00" font-size="6.6" text-anchor="middle" fill="#222" font-weight="normal" stroke="#222" stroke-width="0.22" >48</text>
<line x1="296.88" y1="457.70" x2="296.88" y2="459.60" stroke="#262626" stroke-width="0.9" />
<line x1="301.66" y1="457.70" x2="301.66" y2="460.30" stroke="#262626" stroke-width="1.1" />
<text x="301.66" y="469.00" font-size="6.6" text-anchor="middle" fill="#222" font-weight="normal" stroke="#222" stroke-width="0.22" >50</text>
<line x1="306.43" y1="457.70" x2="306.43" y2="459.60" stroke="#262626" stroke-width="0.9" />
<line x1="311.20" y1="457.70" x2="311.20" y2="460.30" stroke="#262626" stroke-width="1.1" />
<text x="311.20" y="469.00" font-size="6.6" text-anchor="middle" fill="#222" font-weight="normal" stroke="#222" stroke-width="0.22" >52</text>
<line x1="315.98" y1="457.70" x2="315.98" y2="459.60" stroke="#262626" stroke-width="0.9" />
<line x1="320.75" y1="457.70" x2="320.75" y2="460.30" stroke="#262626" stroke-width="1.1" />
<text x="320.75" y="469.00" font-size="6.6" text-anchor="middle" fill="#222" font-weight="normal" stroke="#222" stroke-width="0.22" >54</text>
<line x1="325.52" y1="457.70" x2="325.52" y2="459.60" stroke="#262626" stroke-width="0.9" />
<line x1="330.30" y1="457.70" x2="330.30" y2="460.30" stroke="#262626" stroke-width="1.1" />
<text x="330.30" y="469.00" font-size="6.6" text-anchor="middle" fill="#222" font-weight="normal" stroke="#222" stroke-width="0.22" >56</text>
<line x1="335.07" y1="457.70" x2="335.07" y2="459.60" stroke="#262626" stroke-width="0.9" />
<line x1="339.84" y1="457.70" x2="339.84" y2="460.30" stroke="#262626" stroke-width="1.1" />
<text x="339.84" y="469.00" font-size="6.6" text-anchor="middle" fill="#222" font-weight="normal" stroke="#222" stroke-width="0.22" >58</text>
<line x1="344.62" y1="457.70" x2="344.62" y2="459.60" stroke="#262626" stroke-width="0.9" />
<line x1="349.39" y1="457.70" x2="349.39" y2="460.30" stroke="#262626" stroke-width="1.1" />
<text x="349.39" y="469.00" font-size="6.6" text-anchor="middle" fill="#222" font-weight="normal" stroke="#222" stroke-width="0.22" >60</text>
<line x1="354.16" y1="457.70" x2="354.16" y2="459.60" stroke="#262626" stroke-width="0.9" />
<line x1="358.93" y1="457.70" x2="358.93" y2="460.30" stroke="#262626" stroke-width="1.1" />
<text x="358.93" y="469.00" font-size="6.6" text-anchor="middle" fill="#222" font-weight="normal" stroke="#222" stroke-width="0.22" >62</text>
<line x1="363.71" y1="457.70" x2="363.71" y2="459.60" stroke="#262626" stroke-width="0.9" />
<line x1="368.48" y1="457.70" x2="368.48" y2="460.30" stroke="#262626" stroke-width="1.1" />
<text x="368.48" y="469.00" font-size="6.6" text-anchor="middle" fill="#222" font-weight="normal" stroke="#222" stroke-width="0.22" >64</text>
<g transform="translate(192.50 481.20) scale(0.6872 1)"><text x="0" y="0" font-size="8.4" text-anchor="start" fill="#111" font-weight="bold">Days post implantation</text></g>
<g transform="translate(54.00 372.90) rotate(-90) scale(0.7236 1)"><text x="0" y="0" font-size="9.0" text-anchor="middle" fill="#111" font-weight="normal" stroke="#111" stroke-width="0.35">cfDNA (pg/mL)</text></g>
<line x1="100.95" y1="329.45" x2="100.95" y2="457.50" stroke="#d4506c" stroke-width="1.4" stroke-dasharray="1.7,1.37"/>
<text x="86.20" y="324.80" font-size="7.0" text-anchor="start" fill="#c50e2d" font-weight="normal" textLength="29.90" lengthAdjust="spacingAndGlyphs" >Treatment</text>
<polyline points="96.42,404.07 110.74,419.94 125.06,414.10 148.92,428.33 163.24,398.24 177.56,393.81 191.88,397.77 220.52,401.27 306.43,408.27 363.71,411.07" fill="none" stroke="#2fb24a" stroke-width="1.35" stroke-linejoin="round" />
<circle cx="96.42" cy="404.07" r="2.00" fill="#2fb24a"/>
<circle cx="110.74" cy="419.94" r="2.00" fill="#2fb24a"/>
<circle cx="125.06" cy="414.10" r="2.00" fill="#2fb24a"/>
<circle cx="148.92" cy="428.33" r="2.00" fill="#2fb24a"/>
<circle cx="163.24" cy="398.24" r="2.00" fill="#2fb24a"/>
<circle cx="177.56" cy="393.81" r="2.00" fill="#2fb24a"/>
<circle cx="191.88" cy="397.77" r="2.00" fill="#2fb24a"/>
<circle cx="220.52" cy="401.27" r="2.00" fill="#2fb24a"/>
<circle cx="306.43" cy="408.27" r="2.00" fill="#2fb24a"/>
<circle cx="363.71" cy="411.07" r="2.00" fill="#2fb24a"/>
<polyline points="96.42,405.24 110.74,412.70 125.06,414.10 148.92,406.64 163.24,398.24 177.56,402.20 191.88,392.41 220.52,388.67 306.43,320.78" fill="none" stroke="#2fb24a" stroke-width="1.35" stroke-linejoin="round" />
<rect x="94.42" y="403.24" width="4.00" height="4.00" fill="#2fb24a"/>
<rect x="108.74" y="410.70" width="4.00" height="4.00" fill="#2fb24a"/>
<rect x="123.06" y="412.10" width="4.00" height="4.00" fill="#2fb24a"/>
<rect x="146.92" y="404.64" width="4.00" height="4.00" fill="#2fb24a"/>
<rect x="161.24" y="396.24" width="4.00" height="4.00" fill="#2fb24a"/>
<rect x="175.56" y="400.20" width="4.00" height="4.00" fill="#2fb24a"/>
<rect x="189.88" y="390.41" width="4.00" height="4.00" fill="#2fb24a"/>
<rect x="218.52" y="386.67" width="4.00" height="4.00" fill="#2fb24a"/>
<rect x="304.43" y="318.78" width="4.00" height="4.00" fill="#2fb24a"/>
<polyline points="96.42,404.07 110.74,428.10 125.06,424.13 148.92,419.24 163.24,396.61 177.56,416.44 191.88,407.57" fill="none" stroke="#2fb24a" stroke-width="1.35" stroke-linejoin="round" />
<polygon points="96.42,401.77 98.83,405.91 94.00,405.91" fill="#2fb24a"/>
<polygon points="110.74,425.80 113.15,429.94 108.32,429.94" fill="#2fb24a"/>
<polygon points="125.06,421.83 127.47,425.97 122.64,425.97" fill="#2fb24a"/>
<polygon points="148.92,416.94 151.34,421.08 146.51,421.08" fill="#2fb24a"/>
<polygon points="163.24,394.31 165.66,398.45 160.83,398.45" fill="#2fb24a"/>
<polygon points="177.56,414.14 179.97,418.28 175.15,418.28" fill="#2fb24a"/>
<polygon points="191.88,405.27 194.29,409.41 189.46,409.41" fill="#2fb24a"/>
<polyline points="96.42,402.90 110.74,419.94 125.06,424.13 148.92,418.54 163.24,399.41 177.56,399.41 191.88,397.77 220.52,410.84 306.43,395.44 363.71,373.74" fill="none" stroke="#2fb24a" stroke-width="1.35" stroke-linejoin="round" />
<polygon points="96.42,400.90 98.42,402.90 96.42,404.90 94.42,402.90" fill="#2fb24a"/>
<polygon points="110.74,417.94 112.74,419.94 110.74,421.94 108.74,419.94" fill="#2fb24a"/>
<polygon points="125.06,422.13 127.06,424.13 125.06,426.13 123.06,424.13" fill="#2fb24a"/>
<polygon points="148.92,416.54 150.92,418.54 148.92,420.54 146.92,418.54" fill="#2fb24a"/>
<polygon points="163.24,397.41 165.24,399.41 163.24,401.41 161.24,399.41" fill="#2fb24a"/>
<polygon points="177.56,397.41 179.56,399.41 177.56,401.41 175.56,399.41" fill="#2fb24a"/>
<polygon points="191.88,395.77 193.88,397.77 191.88,399.77 189.88,397.77" fill="#2fb24a"/>
<polygon points="220.52,408.84 222.52,410.84 220.52,412.84 218.52,410.84" fill="#2fb24a"/>
<polygon points="306.43,393.44 308.43,395.44 306.43,397.44 304.43,395.44" fill="#2fb24a"/>
<polygon points="363.71,371.74 365.71,373.74 363.71,375.74 361.71,373.74" fill="#2fb24a"/>
<polyline points="96.42,404.07 110.74,399.64 125.06,384.01 148.92,369.78 163.24,354.14 177.56,338.98 191.88,304.22" fill="none" stroke="#0b4787" stroke-width="1.35" stroke-linejoin="round" />
<circle cx="96.42" cy="404.07" r="2.00" fill="#0b4787"/>
<circle cx="110.74" cy="399.64" r="2.00" fill="#0b4787"/>
<circle cx="125.06" cy="384.01" r="2.00" fill="#0b4787"/>
<circle cx="148.92" cy="369.78" r="2.00" fill="#0b4787"/>
<circle cx="163.24" cy="354.14" r="2.00" fill="#0b4787"/>
<circle cx="177.56" cy="338.98" r="2.00" fill="#0b4787"/>
<circle cx="191.88" cy="304.22" r="2.00" fill="#0b4787"/>
<polyline points="96.42,408.97 110.74,423.43 125.06,400.34 148.92,379.57 163.24,359.28 177.56,345.98 191.88,353.68" fill="none" stroke="#0b4787" stroke-width="1.35" stroke-linejoin="round" />
<rect x="94.42" y="406.97" width="4.00" height="4.00" fill="#0b4787"/>
<rect x="108.74" y="421.43" width="4.00" height="4.00" fill="#0b4787"/>
<rect x="123.06" y="398.34" width="4.00" height="4.00" fill="#0b4787"/>
<rect x="146.92" y="377.57" width="4.00" height="4.00" fill="#0b4787"/>
<rect x="161.24" y="357.28" width="4.00" height="4.00" fill="#0b4787"/>
<rect x="175.56" y="343.98" width="4.00" height="4.00" fill="#0b4787"/>
<rect x="189.88" y="351.68" width="4.00" height="4.00" fill="#0b4787"/>
<polyline points="96.42,415.27 110.74,434.87 125.06,400.34 148.92,396.84 163.24,370.01 177.56,345.98 191.88,332.68" fill="none" stroke="#0b4787" stroke-width="1.35" stroke-linejoin="round" />
<polygon points="96.42,412.97 98.83,417.11 94.00,417.11" fill="#0b4787"/>
<polygon points="110.74,432.57 113.15,436.71 108.32,436.71" fill="#0b4787"/>
<polygon points="125.06,398.04 127.47,402.18 122.64,402.18" fill="#0b4787"/>
<polygon points="148.92,394.54 151.34,398.68 146.51,398.68" fill="#0b4787"/>
<polygon points="163.24,367.71 165.66,371.85 160.83,371.85" fill="#0b4787"/>
<polygon points="177.56,343.68 179.97,347.82 175.15,347.82" fill="#0b4787"/>
<polygon points="191.88,330.38 194.29,334.52 189.46,334.52" fill="#0b4787"/>
<polyline points="96.42,401.74 110.74,376.77 125.06,365.81 148.92,358.34 163.24,370.01 177.56,345.98" fill="none" stroke="#0b4787" stroke-width="1.35" stroke-linejoin="round" />
<polygon points="96.42,399.74 98.42,401.74 96.42,403.74 94.42,401.74" fill="#0b4787"/>
<polygon points="110.74,374.77 112.74,376.77 110.74,378.77 108.74,376.77" fill="#0b4787"/>
<polygon points="125.06,363.81 127.06,365.81 125.06,367.81 123.06,365.81" fill="#0b4787"/>
<polygon points="148.92,356.34 150.92,358.34 148.92,360.34 146.92,358.34" fill="#0b4787"/>
<polygon points="163.24,368.01 165.24,370.01 163.24,372.01 161.24,370.01" fill="#0b4787"/>
<polygon points="177.56,343.98 179.56,345.98 177.56,347.98 175.56,345.98" fill="#0b4787"/>
<polyline points="96.42,397.77 110.74,407.57 125.06,398.01 148.92,352.05 163.24,341.78" fill="none" stroke="#c50e2d" stroke-width="1.35" stroke-linejoin="round" />
<circle cx="96.42" cy="397.77" r="2.00" fill="#c50e2d"/>
<circle cx="110.74" cy="407.57" r="2.00" fill="#c50e2d"/>
<circle cx="125.06" cy="398.01" r="2.00" fill="#c50e2d"/>
<circle cx="148.92" cy="352.05" r="2.00" fill="#c50e2d"/>
<circle cx="163.24" cy="341.78" r="2.00" fill="#c50e2d"/>
<polyline points="96.42,406.87 110.74,379.11 125.06,377.94 148.92,355.54" fill="none" stroke="#c50e2d" stroke-width="1.35" stroke-linejoin="round" />
<rect x="94.42" y="404.87" width="4.00" height="4.00" fill="#c50e2d"/>
<rect x="108.74" y="377.11" width="4.00" height="4.00" fill="#c50e2d"/>
<rect x="123.06" y="375.94" width="4.00" height="4.00" fill="#c50e2d"/>
<rect x="146.92" y="353.54" width="4.00" height="4.00" fill="#c50e2d"/>
<polyline points="96.42,401.97 110.74,387.74 125.06,377.94 148.92,366.04 163.24,362.31" fill="none" stroke="#c50e2d" stroke-width="1.35" stroke-linejoin="round" />
<polygon points="96.42,399.67 98.83,403.81 94.00,403.81" fill="#c50e2d"/>
<polygon points="110.74,385.44 113.15,389.58 108.32,389.58" fill="#c50e2d"/>
<polygon points="125.06,375.64 127.47,379.78 122.64,379.78" fill="#c50e2d"/>
<polygon points="148.92,363.74 151.34,367.88 146.51,367.88" fill="#c50e2d"/>
<polygon points="163.24,360.01 165.66,364.15 160.83,364.15" fill="#c50e2d"/>
<polyline points="96.42,400.57 110.74,368.14 125.06,362.78 148.92,353.44 163.24,326.85" fill="none" stroke="#c50e2d" stroke-width="1.35" stroke-linejoin="round" />
<polygon points="96.42,398.57 98.42,400.57 96.42,402.57 94.42,400.57" fill="#c50e2d"/>
<polygon points="110.74,366.14 112.74,368.14 110.74,370.14 108.74,368.14" fill="#c50e2d"/>
<polygon points="125.06,360.78 127.06,362.78 125.06,364.78 123.06,362.78" fill="#c50e2d"/>
<polygon points="148.92,351.44 150.92,353.44 148.92,355.44 146.92,353.44" fill="#c50e2d"/>
<polygon points="163.24,324.85 165.24,326.85 163.24,328.85 161.24,326.85" fill="#c50e2d"/>
<text x="390.60" y="297.50" font-size="7.4" text-anchor="middle" fill="#222" font-weight="normal" stroke="#222" stroke-width="0.22" >PBS</text>
<line x1="377.90" y1="300.30" x2="403.30" y2="300.30" stroke="#262626" stroke-width="1.2" />
<text x="434.40" y="297.50" font-size="7.4" text-anchor="middle" fill="#222" font-weight="normal" stroke="#222" stroke-width="0.22" >SGN70A100</text>
<line x1="414.00" y1="300.30" x2="454.80" y2="300.30" stroke="#262626" stroke-width="1.2" />
<text x="487.10" y="297.50" font-size="7.4" text-anchor="middle" fill="#222" font-weight="normal" stroke="#222" stroke-width="0.22" >SGN70A300</text>
<line x1="465.20" y1="300.30" x2="509.00" y2="300.30" stroke="#262626" stroke-width="1.2" />
<line x1="378.50" y1="307.10" x2="386.50" y2="307.10" stroke="#c50e2d" stroke-width="1.4" />
<circle cx="382.50" cy="307.10" r="2.00" fill="#c50e2d"/>
<text x="391.10" y="309.60" font-size="7.4" text-anchor="start" fill="#222" font-weight="normal" stroke="#222" stroke-width="0.22" >#01</text>
<line x1="378.50" y1="314.60" x2="386.50" y2="314.60" stroke="#c50e2d" stroke-width="1.4" />
<rect x="380.50" y="312.60" width="4.00" height="4.00" fill="#c50e2d"/>
<text x="391.10" y="317.10" font-size="7.4" text-anchor="start" fill="#222" font-weight="normal" stroke="#222" stroke-width="0.22" >#05</text>
<line x1="378.50" y1="321.90" x2="386.50" y2="321.90" stroke="#c50e2d" stroke-width="1.4" />
<polygon points="382.50,319.60 384.92,323.74 380.08,323.74" fill="#c50e2d"/>
<text x="391.10" y="324.40" font-size="7.4" text-anchor="start" fill="#222" font-weight="normal" stroke="#222" stroke-width="0.22" >#09</text>
<line x1="378.50" y1="328.80" x2="386.50" y2="328.80" stroke="#c50e2d" stroke-width="1.4" />
<polygon points="382.50,326.80 384.50,328.80 382.50,330.80 380.50,328.80" fill="#c50e2d"/>
<text x="391.10" y="331.30" font-size="7.4" text-anchor="start" fill="#222" font-weight="normal" stroke="#222" stroke-width="0.22" >#12</text>
<line x1="422.30" y1="307.10" x2="430.30" y2="307.10" stroke="#0b4787" stroke-width="1.4" />
<circle cx="426.30" cy="307.10" r="2.00" fill="#0b4787"/>
<text x="435.60" y="309.60" font-size="7.4" text-anchor="start" fill="#222" font-weight="normal" stroke="#222" stroke-width="0.22" >#03</text>
<line x1="422.30" y1="314.60" x2="430.30" y2="314.60" stroke="#0b4787" stroke-width="1.4" />
<rect x="424.30" y="312.60" width="4.00" height="4.00" fill="#0b4787"/>
<text x="435.60" y="317.10" font-size="7.4" text-anchor="start" fill="#222" font-weight="normal" stroke="#222" stroke-width="0.22" >#06</text>
<line x1="422.30" y1="321.90" x2="430.30" y2="321.90" stroke="#0b4787" stroke-width="1.4" />
<polygon points="426.30,319.60 428.72,323.74 423.88,323.74" fill="#0b4787"/>
<text x="435.60" y="324.40" font-size="7.4" text-anchor="start" fill="#222" font-weight="normal" stroke="#222" stroke-width="0.22" >#09</text>
<line x1="422.30" y1="328.80" x2="430.30" y2="328.80" stroke="#0b4787" stroke-width="1.4" />
<polygon points="426.30,326.80 428.30,328.80 426.30,330.80 424.30,328.80" fill="#0b4787"/>
<text x="435.60" y="331.30" font-size="7.4" text-anchor="start" fill="#222" font-weight="normal" stroke="#222" stroke-width="0.22" >#11</text>
<line x1="475.00" y1="307.10" x2="483.00" y2="307.10" stroke="#2fb24a" stroke-width="1.4" />
<circle cx="479.00" cy="307.10" r="2.00" fill="#2fb24a"/>
<text x="487.70" y="309.60" font-size="7.4" text-anchor="start" fill="#222" font-weight="normal" stroke="#222" stroke-width="0.22" >#02</text>
<line x1="475.00" y1="314.60" x2="483.00" y2="314.60" stroke="#2fb24a" stroke-width="1.4" />
<rect x="477.00" y="312.60" width="4.00" height="4.00" fill="#2fb24a"/>
<text x="487.70" y="317.10" font-size="7.4" text-anchor="start" fill="#222" font-weight="normal" stroke="#222" stroke-width="0.22" >#04</text>
<line x1="475.00" y1="321.90" x2="483.00" y2="321.90" stroke="#2fb24a" stroke-width="1.4" />
<polygon points="479.00,319.60 481.42,323.74 476.58,323.74" fill="#2fb24a"/>
<text x="487.70" y="324.40" font-size="7.4" text-anchor="start" fill="#222" font-weight="normal" stroke="#222" stroke-width="0.22" >#07</text>
<line x1="475.00" y1="328.80" x2="483.00" y2="328.80" stroke="#2fb24a" stroke-width="1.4" />
<polygon points="479.00,326.80 481.00,328.80 479.00,330.80 477.00,328.80" fill="#2fb24a"/>
<text x="487.70" y="331.30" font-size="7.4" text-anchor="start" fill="#222" font-weight="normal" stroke="#222" stroke-width="0.22" >#10</text>
<line x1="77.70" y1="489.20" x2="77.70" y2="633.70" stroke="#262626" stroke-width="1.4" />
<line x1="77.20" y1="633.20" x2="320.90" y2="633.20" stroke="#262626" stroke-width="1.4" />
<line x1="328.30" y1="633.20" x2="436.90" y2="633.20" stroke="#262626" stroke-width="1.4" />
<line x1="320.90" y1="630.60" x2="320.90" y2="635.80" stroke="#262626" stroke-width="1.4" />
<line x1="328.30" y1="630.60" x2="328.30" y2="635.80" stroke="#262626" stroke-width="1.4" />
<line x1="74.00" y1="626.90" x2="77.70" y2="626.90" stroke="#262626" stroke-width="1.2" />
<text x="71.20" y="629.50" font-size="7.4" text-anchor="end" fill="#222" font-weight="normal" stroke="#222" stroke-width="0.22" >0</text>
<line x1="74.00" y1="614.74" x2="77.70" y2="614.74" stroke="#262626" stroke-width="1.2" />
<text x="71.20" y="617.34" font-size="7.4" text-anchor="end" fill="#222" font-weight="normal" stroke="#222" stroke-width="0.22" >200</text>
<line x1="74.00" y1="602.58" x2="77.70" y2="602.58" stroke="#262626" stroke-width="1.2" />
<text x="71.20" y="605.18" font-size="7.4" text-anchor="end" fill="#222" font-weight="normal" stroke="#222" stroke-width="0.22" >400</text>
<line x1="74.00" y1="590.42" x2="77.70" y2="590.42" stroke="#262626" stroke-width="1.2" />
<text x="71.20" y="593.02" font-size="7.4" text-anchor="end" fill="#222" font-weight="normal" stroke="#222" stroke-width="0.22" >600</text>
<line x1="74.00" y1="578.26" x2="77.70" y2="578.26" stroke="#262626" stroke-width="1.2" />
<text x="71.20" y="580.86" font-size="7.4" text-anchor="end" fill="#222" font-weight="normal" stroke="#222" stroke-width="0.22" >800</text>
<line x1="74.00" y1="566.10" x2="77.70" y2="566.10" stroke="#262626" stroke-width="1.2" />
<text x="71.20" y="568.70" font-size="7.4" text-anchor="end" fill="#222" font-weight="normal" stroke="#222" stroke-width="0.22" >1000</text>
<line x1="74.00" y1="553.94" x2="77.70" y2="553.94" stroke="#262626" stroke-width="1.2" />
<text x="71.20" y="556.54" font-size="7.4" text-anchor="end" fill="#222" font-weight="normal" stroke="#222" stroke-width="0.22" >1200</text>
<line x1="74.00" y1="541.78" x2="77.70" y2="541.78" stroke="#262626" stroke-width="1.2" />
<text x="71.20" y="544.38" font-size="7.4" text-anchor="end" fill="#222" font-weight="normal" stroke="#222" stroke-width="0.22" >1400</text>
<line x1="74.00" y1="529.62" x2="77.70" y2="529.62" stroke="#262626" stroke-width="1.2" />
<text x="71.20" y="532.22" font-size="7.4" text-anchor="end" fill="#222" font-weight="normal" stroke="#222" stroke-width="0.22" >1600</text>
<line x1="74.00" y1="517.46" x2="77.70" y2="517.46" stroke="#262626" stroke-width="1.2" />
<text x="71.20" y="520.06" font-size="7.4" text-anchor="end" fill="#222" font-weight="normal" stroke="#222" stroke-width="0.22" >1800</text>
<line x1="74.00" y1="505.30" x2="77.70" y2="505.30" stroke="#262626" stroke-width="1.2" />
<text x="71.20" y="507.90" font-size="7.4" text-anchor="end" fill="#222" font-weight="normal" stroke="#222" stroke-width="0.22" >2000</text>
<line x1="74.00" y1="493.14" x2="77.70" y2="493.14" stroke="#262626" stroke-width="1.2" />
<text x="71.20" y="495.74" font-size="7.4" text-anchor="end" fill="#222" font-weight="normal" stroke="#222" stroke-width="0.22" >2200</text>
<line x1="85.50" y1="633.20" x2="85.50" y2="636.00" stroke="#262626" stroke-width="1.2" />
<text x="85.50" y="644.70" font-size="7.4" text-anchor="middle" fill="#222" font-weight="normal" stroke="#222" stroke-width="0.22" >6</text>
<line x1="94.22" y1="633.20" x2="94.22" y2="635.30" stroke="#262626" stroke-width="0.9" />
<line x1="102.94" y1="633.20" x2="102.94" y2="636.00" stroke="#262626" stroke-width="1.2" />
<text x="102.94" y="644.70" font-size="7.4" text-anchor="middle" fill="#222" font-weight="normal" stroke="#222" stroke-width="0.22" >8</text>
<line x1="111.65" y1="633.20" x2="111.65" y2="635.30" stroke="#262626" stroke-width="0.9" />
<line x1="120.37" y1="633.20" x2="120.37" y2="636.00" stroke="#262626" stroke-width="1.2" />
<text x="120.37" y="644.70" font-size="7.4" text-anchor="middle" fill="#222" font-weight="normal" stroke="#222" stroke-width="0.22" >10</text>
<line x1="129.09" y1="633.20" x2="129.09" y2="635.30" stroke="#262626" stroke-width="0.9" />
<line x1="137.81" y1="633.20" x2="137.81" y2="636.00" stroke="#262626" stroke-width="1.2" />
<text x="137.81" y="644.70" font-size="7.4" text-anchor="middle" fill="#222" font-weight="normal" stroke="#222" stroke-width="0.22" >12</text>
<line x1="146.53" y1="633.20" x2="146.53" y2="635.30" stroke="#262626" stroke-width="0.9" />
<line x1="155.24" y1="633.20" x2="155.24" y2="636.00" stroke="#262626" stroke-width="1.2" />
<text x="155.24" y="644.70" font-size="7.4" text-anchor="middle" fill="#222" font-weight="normal" stroke="#222" stroke-width="0.22" >14</text>
<line x1="163.96" y1="633.20" x2="163.96" y2="635.30" stroke="#262626" stroke-width="0.9" />
<line x1="172.68" y1="633.20" x2="172.68" y2="636.00" stroke="#262626" stroke-width="1.2" />
<text x="172.68" y="644.70" font-size="7.4" text-anchor="middle" fill="#222" font-weight="normal" stroke="#222" stroke-width="0.22" >16</text>
<line x1="181.40" y1="633.20" x2="181.40" y2="635.30" stroke="#262626" stroke-width="0.9" />
<line x1="190.12" y1="633.20" x2="190.12" y2="636.00" stroke="#262626" stroke-width="1.2" />
<text x="190.12" y="644.70" font-size="7.4" text-anchor="middle" fill="#222" font-weight="normal" stroke="#222" stroke-width="0.22" >18</text>
<line x1="198.83" y1="633.20" x2="198.83" y2="635.30" stroke="#262626" stroke-width="0.9" />
<line x1="207.55" y1="633.20" x2="207.55" y2="636.00" stroke="#262626" stroke-width="1.2" />
<text x="207.55" y="644.70" font-size="7.4" text-anchor="middle" fill="#222" font-weight="normal" stroke="#222" stroke-width="0.22" >20</text>
<line x1="216.27" y1="633.20" x2="216.27" y2="635.30" stroke="#262626" stroke-width="0.9" />
<line x1="224.99" y1="633.20" x2="224.99" y2="636.00" stroke="#262626" stroke-width="1.2" />
<text x="224.99" y="644.70" font-size="7.4" text-anchor="middle" fill="#222" font-weight="normal" stroke="#222" stroke-width="0.22" >22</text>
<line x1="233.71" y1="633.20" x2="233.71" y2="635.30" stroke="#262626" stroke-width="0.9" />
<line x1="242.42" y1="633.20" x2="242.42" y2="636.00" stroke="#262626" stroke-width="1.2" />
<text x="242.42" y="644.70" font-size="7.4" text-anchor="middle" fill="#222" font-weight="normal" stroke="#222" stroke-width="0.22" >24</text>
<line x1="251.14" y1="633.20" x2="251.14" y2="635.30" stroke="#262626" stroke-width="0.9" />
<line x1="259.86" y1="633.20" x2="259.86" y2="636.00" stroke="#262626" stroke-width="1.2" />
<text x="259.86" y="644.70" font-size="7.4" text-anchor="middle" fill="#222" font-weight="normal" stroke="#222" stroke-width="0.22" >26</text>
<line x1="268.58" y1="633.20" x2="268.58" y2="635.30" stroke="#262626" stroke-width="0.9" />
<line x1="277.30" y1="633.20" x2="277.30" y2="636.00" stroke="#262626" stroke-width="1.2" />
<text x="277.30" y="644.70" font-size="7.4" text-anchor="middle" fill="#222" font-weight="normal" stroke="#222" stroke-width="0.22" >28</text>
<line x1="286.01" y1="633.20" x2="286.01" y2="635.30" stroke="#262626" stroke-width="0.9" />
<line x1="294.73" y1="633.20" x2="294.73" y2="636.00" stroke="#262626" stroke-width="1.2" />
<text x="294.73" y="644.70" font-size="7.4" text-anchor="middle" fill="#222" font-weight="normal" stroke="#222" stroke-width="0.22" >30</text>
<line x1="303.45" y1="633.20" x2="303.45" y2="635.30" stroke="#262626" stroke-width="0.9" />
<line x1="312.17" y1="633.20" x2="312.17" y2="636.00" stroke="#262626" stroke-width="1.2" />
<text x="312.17" y="644.70" font-size="7.4" text-anchor="middle" fill="#222" font-weight="normal" stroke="#222" stroke-width="0.22" >32</text>
<line x1="320.89" y1="633.20" x2="320.89" y2="635.30" stroke="#262626" stroke-width="0.9" />
<text x="328.30" y="644.70" font-size="7.4" text-anchor="middle" fill="#222" font-weight="normal" stroke="#222" stroke-width="0.22" >52</text>
<line x1="337.00" y1="633.20" x2="337.00" y2="635.30" stroke="#262626" stroke-width="0.9" />
<line x1="345.70" y1="633.20" x2="345.70" y2="636.00" stroke="#262626" stroke-width="1.4" />
<text x="345.70" y="644.70" font-size="7.4" text-anchor="middle" fill="#222" font-weight="normal" stroke="#222" stroke-width="0.22" >54</text>
<line x1="354.40" y1="633.20" x2="354.40" y2="635.30" stroke="#262626" stroke-width="0.9" />
<line x1="363.10" y1="633.20" x2="363.10" y2="636.00" stroke="#262626" stroke-width="1.4" />
<text x="363.10" y="644.70" font-size="7.4" text-anchor="middle" fill="#222" font-weight="normal" stroke="#222" stroke-width="0.22" >56</text>
<line x1="371.80" y1="633.20" x2="371.80" y2="635.30" stroke="#262626" stroke-width="0.9" />
<line x1="380.50" y1="633.20" x2="380.50" y2="636.00" stroke="#262626" stroke-width="1.4" />
<text x="380.50" y="644.70" font-size="7.4" text-anchor="middle" fill="#222" font-weight="normal" stroke="#222" stroke-width="0.22" >58</text>
<line x1="389.20" y1="633.20" x2="389.20" y2="635.30" stroke="#262626" stroke-width="0.9" />
<line x1="397.90" y1="633.20" x2="397.90" y2="636.00" stroke="#262626" stroke-width="1.4" />
<text x="397.90" y="644.70" font-size="7.4" text-anchor="middle" fill="#222" font-weight="normal" stroke="#222" stroke-width="0.22" >60</text>
<line x1="406.60" y1="633.20" x2="406.60" y2="635.30" stroke="#262626" stroke-width="0.9" />
<line x1="415.30" y1="633.20" x2="415.30" y2="636.00" stroke="#262626" stroke-width="1.4" />
<text x="415.30" y="644.70" font-size="7.4" text-anchor="middle" fill="#222" font-weight="normal" stroke="#222" stroke-width="0.22" >62</text>
<line x1="424.00" y1="633.20" x2="424.00" y2="635.30" stroke="#262626" stroke-width="0.9" />
<line x1="432.70" y1="633.20" x2="432.70" y2="636.00" stroke="#262626" stroke-width="1.4" />
<text x="432.70" y="644.70" font-size="7.4" text-anchor="middle" fill="#222" font-weight="normal" stroke="#222" stroke-width="0.22" >64</text>
<g transform="translate(223.30 657.30) scale(0.6872 1)"><text x="0" y="0" font-size="8.4" text-anchor="start" fill="#111" font-weight="bold">Days post implantation</text></g>
<g transform="translate(48.00 561.30) rotate(-90) scale(0.6706 1)"><text x="0" y="0" font-size="9.4" text-anchor="middle" fill="#111" font-weight="normal" stroke="#111" stroke-width="0.3">Tumor volume (mm<tspan dy="-2.8" font-size="5.5">3</tspan><tspan dy="2.8">)</tspan></text></g>
<line x1="94.50" y1="511.65" x2="94.50" y2="633.20" stroke="#cf3a5a" stroke-width="1.4" stroke-dasharray="1.55,1.55"/>
<text x="79.00" y="508.60" font-size="7.0" text-anchor="start" fill="#c50e2d" font-weight="normal" textLength="33.80" lengthAdjust="spacingAndGlyphs" >Treatments</text>
<polyline points="85.50,624.48 94.22,624.18 102.94,623.88 111.65,623.58 120.37,623.58 137.81,623.88 155.24,624.00 172.68,624.12 190.12,624.18 207.55,624.48 216.27,625.57 242.42,625.57 268.58,625.99 303.45,625.99 320.89,625.09 323.50,625.09" fill="none" stroke="#2fb24a" stroke-width="1.35" stroke-linejoin="round" />
<polyline points="326.50,625.99 337.00,625.99 354.40,625.99 424.00,625.99" fill="none" stroke="#2fb24a" stroke-width="1.35" stroke-linejoin="round" />
<circle cx="85.50" cy="624.48" r="2.00" fill="#2fb24a"/>
<circle cx="94.22" cy="624.18" r="2.00" fill="#2fb24a"/>
<circle cx="102.94" cy="623.88" r="2.00" fill="#2fb24a"/>
<circle cx="111.65" cy="623.58" r="2.00" fill="#2fb24a"/>
<circle cx="120.37" cy="623.58" r="2.00" fill="#2fb24a"/>
<circle cx="137.81" cy="623.88" r="2.00" fill="#2fb24a"/>
<circle cx="155.24" cy="624.00" r="2.00" fill="#2fb24a"/>
<circle cx="172.68" cy="624.12" r="2.00" fill="#2fb24a"/>
<circle cx="190.12" cy="624.18" r="2.00" fill="#2fb24a"/>
<circle cx="207.55" cy="624.48" r="2.00" fill="#2fb24a"/>
<circle cx="216.27" cy="625.57" r="2.00" fill="#2fb24a"/>
<circle cx="242.42" cy="625.57" r="2.00" fill="#2fb24a"/>
<circle cx="268.58" cy="625.99" r="2.00" fill="#2fb24a"/>
<circle cx="303.45" cy="625.99" r="2.00" fill="#2fb24a"/>
<circle cx="320.89" cy="625.09" r="2.00" fill="#2fb24a"/>
<circle cx="337.00" cy="625.99" r="2.00" fill="#2fb24a"/>
<circle cx="354.40" cy="625.99" r="2.00" fill="#2fb24a"/>
<circle cx="424.00" cy="625.99" r="2.00" fill="#2fb24a"/>
<polyline points="85.50,624.48 94.22,623.28 102.94,616.63 111.65,613.49 120.37,622.67 129.09,623.88 137.81,624.00 155.24,624.12 172.68,624.18 190.12,624.30 207.55,624.42" fill="none" stroke="#2fb24a" stroke-width="1.35" stroke-linejoin="round" />
<rect x="83.50" y="622.48" width="4.00" height="4.00" fill="#2fb24a"/>
<rect x="92.22" y="621.28" width="4.00" height="4.00" fill="#2fb24a"/>
<rect x="100.94" y="614.63" width="4.00" height="4.00" fill="#2fb24a"/>
<rect x="109.65" y="611.49" width="4.00" height="4.00" fill="#2fb24a"/>
<rect x="118.37" y="620.67" width="4.00" height="4.00" fill="#2fb24a"/>
<rect x="127.09" y="621.88" width="4.00" height="4.00" fill="#2fb24a"/>
<rect x="135.81" y="622.00" width="4.00" height="4.00" fill="#2fb24a"/>
<rect x="153.24" y="622.12" width="4.00" height="4.00" fill="#2fb24a"/>
<rect x="170.68" y="622.18" width="4.00" height="4.00" fill="#2fb24a"/>
<rect x="188.12" y="622.30" width="4.00" height="4.00" fill="#2fb24a"/>
<rect x="205.55" y="622.42" width="4.00" height="4.00" fill="#2fb24a"/>
<polyline points="85.50,625.09 102.94,624.48 120.37,624.18 137.81,624.18 155.24,624.18 172.68,624.24 190.12,624.30 207.55,624.42" fill="none" stroke="#2fb24a" stroke-width="1.35" stroke-linejoin="round" />
<polygon points="85.50,622.79 87.92,626.93 83.08,626.93" fill="#2fb24a"/>
<polygon points="102.94,622.18 105.35,626.32 100.52,626.32" fill="#2fb24a"/>
<polygon points="120.37,621.88 122.79,626.02 117.96,626.02" fill="#2fb24a"/>
<polygon points="137.81,621.88 140.22,626.02 135.39,626.02" fill="#2fb24a"/>
<polygon points="155.24,621.88 157.66,626.02 152.83,626.02" fill="#2fb24a"/>
<polygon points="172.68,621.94 175.09,626.08 170.27,626.08" fill="#2fb24a"/>
<polygon points="190.12,622.00 192.53,626.14 187.70,626.14" fill="#2fb24a"/>
<polygon points="207.55,622.12 209.97,626.26 205.14,626.26" fill="#2fb24a"/>
<polyline points="85.50,624.79 102.94,623.88 120.37,624.00 137.81,624.12 155.24,624.12 172.68,624.18 190.12,624.24 207.55,624.36" fill="none" stroke="#2fb24a" stroke-width="1.35" stroke-linejoin="round" />
<polygon points="85.50,622.79 87.50,624.79 85.50,626.79 83.50,624.79" fill="#2fb24a"/>
<polygon points="102.94,621.88 104.94,623.88 102.94,625.88 100.94,623.88" fill="#2fb24a"/>
<polygon points="120.37,622.00 122.37,624.00 120.37,626.00 118.37,624.00" fill="#2fb24a"/>
<polygon points="137.81,622.12 139.81,624.12 137.81,626.12 135.81,624.12" fill="#2fb24a"/>
<polygon points="155.24,622.12 157.24,624.12 155.24,626.12 153.24,624.12" fill="#2fb24a"/>
<polygon points="172.68,622.18 174.68,624.18 172.68,626.18 170.68,624.18" fill="#2fb24a"/>
<polygon points="190.12,622.24 192.12,624.24 190.12,626.24 188.12,624.24" fill="#2fb24a"/>
<polygon points="207.55,622.36 209.55,624.36 207.55,626.36 205.55,624.36" fill="#2fb24a"/>
<polyline points="85.50,622.67 102.94,622.07 120.37,620.86 137.81,620.01 155.24,619.53 172.68,614.22 190.12,609.99 207.55,585.83 216.27,577.79 242.42,542.70" fill="none" stroke="#0b4787" stroke-width="1.35" stroke-linejoin="round" />
<circle cx="85.50" cy="622.67" r="2.00" fill="#0b4787"/>
<circle cx="102.94" cy="622.07" r="2.00" fill="#0b4787"/>
<circle cx="120.37" cy="620.86" r="2.00" fill="#0b4787"/>
<circle cx="137.81" cy="620.01" r="2.00" fill="#0b4787"/>
<circle cx="155.24" cy="619.53" r="2.00" fill="#0b4787"/>
<circle cx="172.68" cy="614.22" r="2.00" fill="#0b4787"/>
<circle cx="190.12" cy="609.99" r="2.00" fill="#0b4787"/>
<circle cx="207.55" cy="585.83" r="2.00" fill="#0b4787"/>
<circle cx="216.27" cy="577.79" r="2.00" fill="#0b4787"/>
<circle cx="242.42" cy="542.70" r="2.00" fill="#0b4787"/>
<polyline points="85.50,623.28 102.94,622.67 120.37,622.07 129.09,621.52 137.81,621.52 155.24,622.97 172.68,619.53 190.12,616.21 207.55,598.09 216.27,597.00 242.42,568.37 268.58,546.51" fill="none" stroke="#0b4787" stroke-width="1.35" stroke-linejoin="round" />
<rect x="83.50" y="621.28" width="4.00" height="4.00" fill="#0b4787"/>
<rect x="100.94" y="620.67" width="4.00" height="4.00" fill="#0b4787"/>
<rect x="118.37" y="620.07" width="4.00" height="4.00" fill="#0b4787"/>
<rect x="127.09" y="619.52" width="4.00" height="4.00" fill="#0b4787"/>
<rect x="135.81" y="619.52" width="4.00" height="4.00" fill="#0b4787"/>
<rect x="153.24" y="620.97" width="4.00" height="4.00" fill="#0b4787"/>
<rect x="170.68" y="617.53" width="4.00" height="4.00" fill="#0b4787"/>
<rect x="188.12" y="614.21" width="4.00" height="4.00" fill="#0b4787"/>
<rect x="205.55" y="596.09" width="4.00" height="4.00" fill="#0b4787"/>
<rect x="214.27" y="595.00" width="4.00" height="4.00" fill="#0b4787"/>
<rect x="240.42" y="566.37" width="4.00" height="4.00" fill="#0b4787"/>
<rect x="266.58" y="544.51" width="4.00" height="4.00" fill="#0b4787"/>
<polyline points="85.50,623.88 102.94,623.28 120.37,622.67 137.81,622.07 155.24,621.46 172.68,620.26 190.12,616.21 207.55,608.78 216.27,610.11 242.42,576.53" fill="none" stroke="#0b4787" stroke-width="1.35" stroke-linejoin="round" />
<polygon points="85.50,621.58 87.92,625.72 83.08,625.72" fill="#0b4787"/>
<polygon points="102.94,620.98 105.35,625.12 100.52,625.12" fill="#0b4787"/>
<polygon points="120.37,620.37 122.79,624.51 117.96,624.51" fill="#0b4787"/>
<polygon points="137.81,619.77 140.22,623.91 135.39,623.91" fill="#0b4787"/>
<polygon points="155.24,619.16 157.66,623.30 152.83,623.30" fill="#0b4787"/>
<polygon points="172.68,617.96 175.09,622.10 170.27,622.10" fill="#0b4787"/>
<polygon points="190.12,613.91 192.53,618.05 187.70,618.05" fill="#0b4787"/>
<polygon points="207.55,606.48 209.97,610.62 205.14,610.62" fill="#0b4787"/>
<polygon points="216.27,607.81 218.69,611.95 213.86,611.95" fill="#0b4787"/>
<polygon points="242.42,574.23 244.84,578.37 240.01,578.37" fill="#0b4787"/>
<polyline points="85.50,622.91 102.94,617.54 120.37,613.91 129.09,612.83 137.81,608.30 155.24,591.26 172.68,566.98 190.12,563.78 207.55,560.40" fill="none" stroke="#0b4787" stroke-width="1.35" stroke-linejoin="round" />
<polygon points="85.50,620.91 87.50,622.91 85.50,624.91 83.50,622.91" fill="#0b4787"/>
<polygon points="102.94,615.54 104.94,617.54 102.94,619.54 100.94,617.54" fill="#0b4787"/>
<polygon points="120.37,611.91 122.37,613.91 120.37,615.91 118.37,613.91" fill="#0b4787"/>
<polygon points="129.09,610.83 131.09,612.83 129.09,614.83 127.09,612.83" fill="#0b4787"/>
<polygon points="137.81,606.30 139.81,608.30 137.81,610.30 135.81,608.30" fill="#0b4787"/>
<polygon points="155.24,589.26 157.24,591.26 155.24,593.26 153.24,591.26" fill="#0b4787"/>
<polygon points="172.68,564.98 174.68,566.98 172.68,568.98 170.68,566.98" fill="#0b4787"/>
<polygon points="190.12,561.78 192.12,563.78 190.12,565.78 188.12,563.78" fill="#0b4787"/>
<polygon points="207.55,558.40 209.55,560.40 207.55,562.40 205.55,560.40" fill="#0b4787"/>
<polyline points="85.50,624.48 94.22,623.88 102.94,623.28 111.65,622.07 120.37,619.65 129.09,616.03 137.81,614.58 155.24,591.81 172.68,574.29 190.12,557.44 207.55,528.63" fill="none" stroke="#c50e2d" stroke-width="1.35" stroke-linejoin="round" />
<circle cx="85.50" cy="624.48" r="2.00" fill="#c50e2d"/>
<circle cx="94.22" cy="623.88" r="2.00" fill="#c50e2d"/>
<circle cx="102.94" cy="623.28" r="2.00" fill="#c50e2d"/>
<circle cx="111.65" cy="622.07" r="2.00" fill="#c50e2d"/>
<circle cx="120.37" cy="619.65" r="2.00" fill="#c50e2d"/>
<circle cx="129.09" cy="616.03" r="2.00" fill="#c50e2d"/>
<circle cx="137.81" cy="614.58" r="2.00" fill="#c50e2d"/>
<circle cx="155.24" cy="591.81" r="2.00" fill="#c50e2d"/>
<circle cx="172.68" cy="574.29" r="2.00" fill="#c50e2d"/>
<circle cx="190.12" cy="557.44" r="2.00" fill="#c50e2d"/>
<circle cx="207.55" cy="528.63" r="2.00" fill="#c50e2d"/>
<polyline points="85.50,625.09 94.22,623.28 102.94,621.46 111.65,619.35 120.37,615.00 129.09,608.78 137.81,592.17 155.24,580.39 172.68,562.57 190.12,551.70 207.55,563.12" fill="none" stroke="#c50e2d" stroke-width="1.35" stroke-linejoin="round" />
<rect x="83.50" y="623.09" width="4.00" height="4.00" fill="#c50e2d"/>
<rect x="92.22" y="621.28" width="4.00" height="4.00" fill="#c50e2d"/>
<rect x="100.94" y="619.46" width="4.00" height="4.00" fill="#c50e2d"/>
<rect x="109.65" y="617.35" width="4.00" height="4.00" fill="#c50e2d"/>
<rect x="118.37" y="613.00" width="4.00" height="4.00" fill="#c50e2d"/>
<rect x="127.09" y="606.78" width="4.00" height="4.00" fill="#c50e2d"/>
<rect x="135.81" y="590.17" width="4.00" height="4.00" fill="#c50e2d"/>
<rect x="153.24" y="578.39" width="4.00" height="4.00" fill="#c50e2d"/>
<rect x="170.68" y="560.57" width="4.00" height="4.00" fill="#c50e2d"/>
<rect x="188.12" y="549.70" width="4.00" height="4.00" fill="#c50e2d"/>
<rect x="205.55" y="561.12" width="4.00" height="4.00" fill="#c50e2d"/>
<polyline points="85.50,625.69 94.22,625.09 102.94,624.48 111.65,623.28 120.37,619.65 129.09,616.03 137.81,613.49 155.24,602.98 172.68,573.75 190.12,544.15 207.55,543.25" fill="none" stroke="#c50e2d" stroke-width="1.35" stroke-linejoin="round" />
<polygon points="85.50,623.39 87.92,627.53 83.08,627.53" fill="#c50e2d"/>
<polygon points="94.22,622.79 96.63,626.93 91.80,626.93" fill="#c50e2d"/>
<polygon points="102.94,622.18 105.35,626.32 100.52,626.32" fill="#c50e2d"/>
<polygon points="111.65,620.98 114.07,625.12 109.24,625.12" fill="#c50e2d"/>
<polygon points="120.37,617.35 122.79,621.49 117.96,621.49" fill="#c50e2d"/>
<polygon points="129.09,613.73 131.50,617.87 126.67,617.87" fill="#c50e2d"/>
<polygon points="137.81,611.19 140.22,615.33 135.39,615.33" fill="#c50e2d"/>
<polygon points="155.24,600.68 157.66,604.82 152.83,604.82" fill="#c50e2d"/>
<polygon points="172.68,571.45 175.09,575.59 170.27,575.59" fill="#c50e2d"/>
<polygon points="190.12,541.85 192.53,545.99 187.70,545.99" fill="#c50e2d"/>
<polygon points="207.55,540.95 209.97,545.09 205.14,545.09" fill="#c50e2d"/>
<polyline points="85.50,623.88 94.22,621.46 102.94,619.95 111.65,618.44 120.37,608.72 129.09,603.53 137.81,598.81 155.24,570.73 172.68,539.98 190.12,521.20 207.55,503.32" fill="none" stroke="#c50e2d" stroke-width="1.35" stroke-linejoin="round" />
<polygon points="85.50,621.88 87.50,623.88 85.50,625.88 83.50,623.88" fill="#c50e2d"/>
<polygon points="94.22,619.46 96.22,621.46 94.22,623.46 92.22,621.46" fill="#c50e2d"/>
<polygon points="102.94,617.95 104.94,619.95 102.94,621.95 100.94,619.95" fill="#c50e2d"/>
<polygon points="111.65,616.44 113.65,618.44 111.65,620.44 109.65,618.44" fill="#c50e2d"/>
<polygon points="120.37,606.72 122.37,608.72 120.37,610.72 118.37,608.72" fill="#c50e2d"/>
<polygon points="129.09,601.53 131.09,603.53 129.09,605.53 127.09,603.53" fill="#c50e2d"/>
<polygon points="137.81,596.81 139.81,598.81 137.81,600.81 135.81,598.81" fill="#c50e2d"/>
<polygon points="155.24,568.73 157.24,570.73 155.24,572.73 153.24,570.73" fill="#c50e2d"/>
<polygon points="172.68,537.98 174.68,539.98 172.68,541.98 170.68,539.98" fill="#c50e2d"/>
<polygon points="190.12,519.20 192.12,521.20 190.12,523.20 188.12,521.20" fill="#c50e2d"/>
<polygon points="207.55,501.32 209.55,503.32 207.55,505.32 205.55,503.32" fill="#c50e2d"/>
<text x="390.60" y="517.90" font-size="7.4" text-anchor="middle" fill="#222" font-weight="normal" stroke="#222" stroke-width="0.22" >PBS</text>
<line x1="377.90" y1="520.70" x2="403.30" y2="520.70" stroke="#262626" stroke-width="1.2" />
<text x="434.40" y="517.90" font-size="7.4" text-anchor="middle" fill="#222" font-weight="normal" stroke="#222" stroke-width="0.22" >SGN70A100</text>
<line x1="414.00" y1="520.70" x2="454.80" y2="520.70" stroke="#262626" stroke-width="1.2" />
<text x="487.10" y="517.90" font-size="7.4" text-anchor="middle" fill="#222" font-weight="normal" stroke="#222" stroke-width="0.22" >SGN70A300</text>
<line x1="465.20" y1="520.70" x2="509.00" y2="520.70" stroke="#262626" stroke-width="1.2" />
<line x1="378.50" y1="527.50" x2="386.50" y2="527.50" stroke="#c50e2d" stroke-width="1.4" />
<circle cx="382.50" cy="527.50" r="2.00" fill="#c50e2d"/>
<text x="391.10" y="530.00" font-size="7.4" text-anchor="start" fill="#222" font-weight="normal" stroke="#222" stroke-width="0.22" >#01</text>
<line x1="378.50" y1="535.00" x2="386.50" y2="535.00" stroke="#c50e2d" stroke-width="1.4" />
<rect x="380.50" y="533.00" width="4.00" height="4.00" fill="#c50e2d"/>
<text x="391.10" y="537.50" font-size="7.4" text-anchor="start" fill="#222" font-weight="normal" stroke="#222" stroke-width="0.22" >#05</text>
<line x1="378.50" y1="542.30" x2="386.50" y2="542.30" stroke="#c50e2d" stroke-width="1.4" />
<polygon points="382.50,540.00 384.92,544.14 380.08,544.14" fill="#c50e2d"/>
<text x="391.10" y="544.80" font-size="7.4" text-anchor="start" fill="#222" font-weight="normal" stroke="#222" stroke-width="0.22" >#09</text>
<line x1="378.50" y1="549.20" x2="386.50" y2="549.20" stroke="#c50e2d" stroke-width="1.4" />
<polygon points="382.50,547.20 384.50,549.20 382.50,551.20 380.50,549.20" fill="#c50e2d"/>
<text x="391.10" y="551.70" font-size="7.4" text-anchor="start" fill="#222" font-weight="normal" stroke="#222" stroke-width="0.22" >#12</text>
<line x1="422.30" y1="527.50" x2="430.30" y2="527.50" stroke="#0b4787" stroke-width="1.4" />
<circle cx="426.30" cy="527.50" r="2.00" fill="#0b4787"/>
<text x="435.60" y="530.00" font-size="7.4" text-anchor="start" fill="#222" font-weight="normal" stroke="#222" stroke-width="0.22" >#03</text>
<line x1="422.30" y1="535.00" x2="430.30" y2="535.00" stroke="#0b4787" stroke-width="1.4" />
<rect x="424.30" y="533.00" width="4.00" height="4.00" fill="#0b4787"/>
<text x="435.60" y="537.50" font-size="7.4" text-anchor="start" fill="#222" font-weight="normal" stroke="#222" stroke-width="0.22" >#06</text>
<line x1="422.30" y1="542.30" x2="430.30" y2="542.30" stroke="#0b4787" stroke-width="1.4" />
<polygon points="426.30,540.00 428.72,544.14 423.88,544.14" fill="#0b4787"/>
<text x="435.60" y="544.80" font-size="7.4" text-anchor="start" fill="#222" font-weight="normal" stroke="#222" stroke-width="0.22" >#09</text>
<line x1="422.30" y1="549.20" x2="430.30" y2="549.20" stroke="#0b4787" stroke-width="1.4" />
<polygon points="426.30,547.20 428.30,549.20 426.30,551.20 424.30,549.20" fill="#0b4787"/>
<text x="435.60" y="551.70" font-size="7.4" text-anchor="start" fill="#222" font-weight="normal" stroke="#222" stroke-width="0.22" >#11</text>
<line x1="475.00" y1="527.50" x2="483.00" y2="527.50" stroke="#2fb24a" stroke-width="1.4" />
<circle cx="479.00" cy="527.50" r="2.00" fill="#2fb24a"/>
<text x="487.70" y="530.00" font-size="7.4" text-anchor="start" fill="#222" font-weight="normal" stroke="#222" stroke-width="0.22" >#02</text>
<line x1="475.00" y1="535.00" x2="483.00" y2="535.00" stroke="#2fb24a" stroke-width="1.4" />
<rect x="477.00" y="533.00" width="4.00" height="4.00" fill="#2fb24a"/>
<text x="487.70" y="537.50" font-size="7.4" text-anchor="start" fill="#222" font-weight="normal" stroke="#222" stroke-width="0.22" >#04</text>
<line x1="475.00" y1="542.30" x2="483.00" y2="542.30" stroke="#2fb24a" stroke-width="1.4" />
<polygon points="479.00,540.00 481.42,544.14 476.58,544.14" fill="#2fb24a"/>
<text x="487.70" y="544.80" font-size="7.4" text-anchor="start" fill="#222" font-weight="normal" stroke="#222" stroke-width="0.22" >#07</text>
<line x1="475.00" y1="549.20" x2="483.00" y2="549.20" stroke="#2fb24a" stroke-width="1.4" />
<polygon points="479.00,547.20 481.00,549.20 479.00,551.20 477.00,549.20" fill="#2fb24a"/>
<text x="487.70" y="551.70" font-size="7.4" text-anchor="start" fill="#222" font-weight="normal" stroke="#222" stroke-width="0.22" >#10</text>
</svg></body></html>
